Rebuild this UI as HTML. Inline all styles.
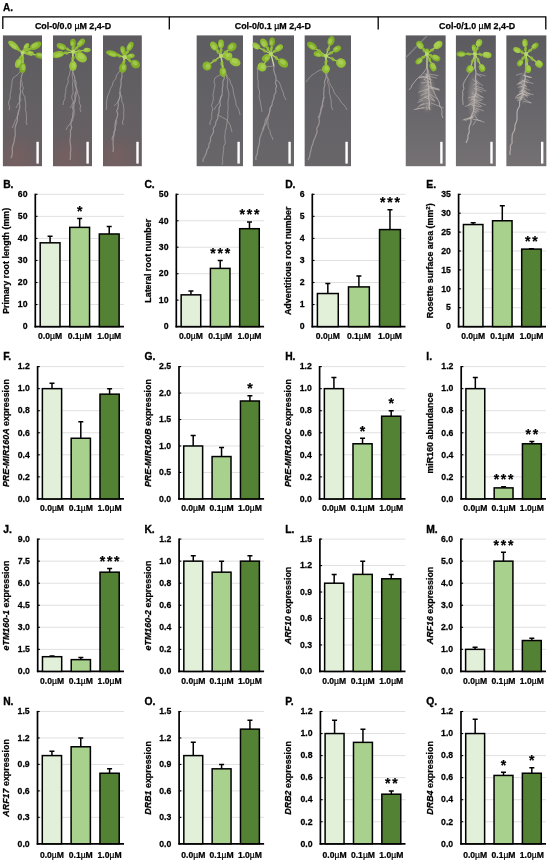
<!DOCTYPE html>
<html><head><meta charset="utf-8"><title>Figure</title>
<style>html,body{margin:0;padding:0;background:#fff;}body{width:550px;height:863px;overflow:hidden;}svg{display:block;will-change:transform;}text{font-family:"Liberation Sans", sans-serif;fill:#000;stroke:#000;stroke-width:0.25px;}</style>
</head><body>
<svg width="550" height="863" viewBox="0 0 550 863">
<defs><linearGradient id="pg0" x1="0" y1="0" x2="0" y2="1"><stop offset="0" stop-color="#5d5b5f"/><stop offset="0.5" stop-color="#636064"/><stop offset="1" stop-color="#6a5f62"/></linearGradient>
<linearGradient id="pg1" x1="0" y1="0" x2="0" y2="1"><stop offset="0" stop-color="#5d5d61"/><stop offset="1" stop-color="#69666a"/></linearGradient>
<linearGradient id="pg2" x1="0" y1="0" x2="0" y2="1"><stop offset="0" stop-color="#5b5b5f"/><stop offset="0.5" stop-color="#67656a"/><stop offset="1" stop-color="#757173"/></linearGradient>
<radialGradient id="pink" cx="0.5" cy="0.5" r="0.5"><stop offset="0" stop-color="#8a5f5c" stop-opacity="0.4"/><stop offset="1" stop-color="#8a5f5c" stop-opacity="0"/></radialGradient>
<radialGradient id="mass" cx="0.5" cy="0.5" r="0.5"><stop offset="0" stop-color="#d6cdc4" stop-opacity="0.45"/><stop offset="1" stop-color="#d6cdc4" stop-opacity="0"/></radialGradient>
<filter id="bl" x="-20%" y="-20%" width="140%" height="140%"><feGaussianBlur stdDeviation="0.55"/></filter><clipPath id="cp0"><rect x="2.7" y="35.2" width="39.3" height="131.2"/></clipPath><clipPath id="cp1"><rect x="52.9" y="35.2" width="39.1" height="131.2"/></clipPath><clipPath id="cp2"><rect x="103.0" y="35.2" width="38.9" height="131.2"/></clipPath><clipPath id="cp3"><rect x="196.4" y="35.2" width="46.6" height="131.2"/></clipPath><clipPath id="cp4"><rect x="252.6" y="35.2" width="41.4" height="131.2"/></clipPath><clipPath id="cp5"><rect x="304.4" y="35.2" width="46.6" height="131.2"/></clipPath><clipPath id="cp6"><rect x="405.5" y="35.2" width="40.3" height="131.2"/></clipPath><clipPath id="cp7"><rect x="455.7" y="35.2" width="40.2" height="131.2"/></clipPath><clipPath id="cp8"><rect x="506.2" y="35.2" width="40.4" height="131.2"/></clipPath></defs>
<rect width="550" height="863" fill="#fff"/>
<text x="3.0" y="11" font-size="10" font-weight="bold">A.</text>
<path d="M2.8,29 V16.8 H545.8 V29.5" fill="none" stroke="#000" stroke-width="1.3"/>
<line x1="169.3" y1="16.8" x2="169.3" y2="29.5" stroke="#000" stroke-width="1.3"/>
<line x1="378.2" y1="16.8" x2="378.2" y2="29.5" stroke="#000" stroke-width="1.3"/>
<text x="73.0" y="28.9" font-size="8.9" font-weight="bold" text-anchor="middle">Col-0/0.0 <tspan font-weight="normal">µ</tspan>M 2,4-D</text>
<text x="272.8" y="28.9" font-size="8.9" font-weight="bold" text-anchor="middle">Col-0/0.1 <tspan font-weight="normal">µ</tspan>M 2,4-D</text>
<text x="477.2" y="28.9" font-size="8.9" font-weight="bold" text-anchor="middle">Col-0/1.0 <tspan font-weight="normal">µ</tspan>M 2,4-D</text>
<g clip-path="url(#cp0)"><rect x="2.7" y="35.2" width="39.3" height="131.2" fill="url(#pg0)"/>
<ellipse cx="16.5" cy="156.4" rx="21.6" ry="22" fill="url(#pink)"/>
<g filter="url(#bl)">
<path d="M23.0,66.0 L23.1,69.5 L22.5,73.0 L21.4,76.5 L21.0,80.0 L20.4,83.0 L20.6,86.0 L20.2,89.0 L20.7,92.0 L20.0,95.0 L19.4,98.0 L19.6,101.0 L19.6,104.0 L19.9,107.0 L19.0,110.0 L18.3,113.3 L17.3,116.7 L17.5,120.0 L16.5,123.3 L15.2,126.7 L15.0,130.0 L15.3,133.0 L15.1,136.0 L14.4,139.0 L14.1,142.0 L13.0,145.0 L12.2,148.2 L12.4,151.5 L12.2,154.8 L11.0,158.0" stroke="#a39b9c" stroke-width="1.2" fill="none" opacity="0.85" stroke-linejoin="round"/>
<path d="M23.0,66.0 L20.8,69.0 L20.0,72.0 L18.3,74.0 L15.8,76.0 L13.0,78.0 L12.0,81.4 L11.8,84.8 L11.1,88.2 L10.9,91.6 L10.0,95.0 L10.3,98.0 L8.9,101.0 L8.6,104.0 L9.8,107.0 L9.0,110.0" stroke="#a39b9c" stroke-width="0.9" fill="none" opacity="0.85" stroke-linejoin="round"/>
<path d="M21.0,80.0 L22.3,82.5 L22.0,85.0 L23.4,88.0 L22.4,91.0 L23.1,94.0 L25.0,97.0 L25.0,100.0 L25.7,103.1 L25.8,106.2 L25.4,109.4 L26.2,112.5 L26.4,115.6 L26.6,118.8 L26.1,121.9 L27.0,125.0" stroke="#a39b9c" stroke-width="0.9" fill="none" opacity="0.85" stroke-linejoin="round"/>
<path d="M19.0,110.0 L18.0,112.5 L18.0,115.0 L16.6,118.2 L14.8,121.5 L13.7,124.8 L12.0,128.0" stroke="#a39b9c" stroke-width="0.9" fill="none" opacity="0.85" stroke-linejoin="round"/>
<path d="M20.0,95.0 L20.0,97.5 L21.0,100.0 L18.6,102.7 L17.5,105.3 L16.0,108.0" stroke="#a39b9c" stroke-width="0.9" fill="none" opacity="0.85" stroke-linejoin="round"/>
<line x1="22.6" y1="52.6" x2="23" y2="66" stroke="#c9d9a0" stroke-width="1.3"/>
<line x1="22.6" y1="52.6" x2="13.5" y2="45.3" stroke="#b3d563" stroke-width="1.2"/>
<line x1="22.6" y1="52.6" x2="26.4" y2="46.5" stroke="#b3d563" stroke-width="1.2"/>
<line x1="22.6" y1="52.6" x2="35.6" y2="45.7" stroke="#b3d563" stroke-width="1.2"/>
<line x1="22.6" y1="52.6" x2="40.2" y2="55.6" stroke="#b3d563" stroke-width="1.2"/>
<line x1="22.6" y1="52.6" x2="30.2" y2="53.3" stroke="#b3d563" stroke-width="1.2"/>
<line x1="22.6" y1="52.6" x2="18.4" y2="63.2" stroke="#b3d563" stroke-width="1.2"/>
<line x1="22.6" y1="52.6" x2="22.6" y2="67.8" stroke="#b3d563" stroke-width="1.2"/>
<ellipse cx="13.5" cy="45.3" rx="6.4" ry="2.9" transform="rotate(-141 13.5 45.3)" fill="#97c23a"/>
<ellipse cx="12.9" cy="44.7" rx="3.6" ry="1.5" transform="rotate(-141 13.5 45.3)" fill="#b5d660" opacity="0.6"/>
<ellipse cx="18.5" cy="49.3" rx="2.4" ry="1.5" transform="rotate(-116 18.5 49.3)" fill="#8fbd33" opacity="0.85"/>
<ellipse cx="26.4" cy="46.5" rx="3.7" ry="2.3" transform="rotate(-58 26.4 46.5)" fill="#97c23a"/>
<ellipse cx="25.8" cy="45.9" rx="2.0" ry="1.2" transform="rotate(-58 26.4 46.5)" fill="#b5d660" opacity="0.6"/>
<ellipse cx="24.3" cy="49.9" rx="2.4" ry="1.5" transform="rotate(-33 24.3 49.9)" fill="#8fbd33" opacity="0.85"/>
<ellipse cx="35.6" cy="45.7" rx="6.4" ry="3.4" transform="rotate(-28 35.6 45.7)" fill="#86b52c"/>
<ellipse cx="35.0" cy="45.1" rx="3.6" ry="1.8" transform="rotate(-28 35.6 45.7)" fill="#b5d660" opacity="0.6"/>
<ellipse cx="28.5" cy="49.5" rx="2.4" ry="1.5" transform="rotate(-3 28.5 49.5)" fill="#8fbd33" opacity="0.85"/>
<ellipse cx="40.2" cy="55.6" rx="5.0" ry="2.9" transform="rotate(10 40.2 55.6)" fill="#7fae28"/>
<ellipse cx="39.6" cy="55.0" rx="2.8" ry="1.5" transform="rotate(10 40.2 55.6)" fill="#b5d660" opacity="0.6"/>
<ellipse cx="30.5" cy="54.0" rx="2.4" ry="1.5" transform="rotate(35 30.5 54.0)" fill="#8fbd33" opacity="0.85"/>
<ellipse cx="30.2" cy="53.3" rx="3.7" ry="2.3" transform="rotate(5 30.2 53.3)" fill="#97c23a"/>
<ellipse cx="29.6" cy="52.7" rx="2.0" ry="1.2" transform="rotate(5 30.2 53.3)" fill="#b5d660" opacity="0.6"/>
<ellipse cx="26.0" cy="52.9" rx="2.4" ry="1.5" transform="rotate(30 26.0 52.9)" fill="#8fbd33" opacity="0.85"/>
<ellipse cx="18.4" cy="63.2" rx="5.0" ry="3.2" transform="rotate(112 18.4 63.2)" fill="#97c23a"/>
<ellipse cx="17.8" cy="62.6" rx="2.8" ry="1.7" transform="rotate(112 18.4 63.2)" fill="#b5d660" opacity="0.6"/>
<ellipse cx="20.7" cy="57.4" rx="2.4" ry="1.5" transform="rotate(137 20.7 57.4)" fill="#8fbd33" opacity="0.85"/>
<ellipse cx="22.6" cy="67.8" rx="5.4" ry="3.4" transform="rotate(90 22.6 67.8)" fill="#7fae28"/>
<ellipse cx="22.0" cy="67.2" rx="3.0" ry="1.8" transform="rotate(90 22.6 67.8)" fill="#b5d660" opacity="0.6"/>
<ellipse cx="22.6" cy="59.4" rx="2.4" ry="1.5" transform="rotate(115 22.6 59.4)" fill="#8fbd33" opacity="0.85"/>
<circle cx="22.6" cy="52.6" r="2" fill="#b8d96a"/>
</g>
<rect x="36.4" y="141.8" width="2.4" height="21.8" fill="#fff"/></g>
<g clip-path="url(#cp1)"><rect x="52.9" y="35.2" width="39.1" height="131.2" fill="url(#pg0)"/>
<ellipse cx="66.6" cy="156.4" rx="21.5" ry="22" fill="url(#pink)"/>
<g filter="url(#bl)">
<path d="M72.0,66.0 L72.7,69.5 L73.1,73.0 L74.5,76.5 L75.0,80.0 L74.8,83.0 L75.5,86.0 L76.6,89.0 L76.0,92.0 L74.9,95.0 L75.0,98.0 L75.3,101.0 L73.9,104.0 L73.7,107.0 L74.0,110.0 L74.0,113.0 L73.7,116.0 L71.9,119.0 L71.0,122.0 L71.0,125.0 L71.7,128.0 L70.3,131.0 L70.6,134.0 L70.4,137.0 L70.0,140.0 L70.2,143.3 L70.7,146.7 L70.8,150.0 L70.3,153.3 L70.6,156.7 L70.0,160.0" stroke="#a39b9c" stroke-width="1.2" fill="none" opacity="0.85" stroke-linejoin="round"/>
<path d="M72.0,66.0 L70.5,69.0 L70.0,72.0 L69.3,75.2 L67.9,78.5 L68.3,81.8 L67.0,85.0 L65.8,88.3 L65.8,91.7 L65.0,95.0 L65.1,98.3 L63.5,101.7 L63.0,105.0" stroke="#a39b9c" stroke-width="0.9" fill="none" opacity="0.85" stroke-linejoin="round"/>
<path d="M75.0,80.0 L76.4,82.5 L76.0,85.0 L75.8,88.0 L77.6,91.0 L77.8,94.0 L79.2,97.0 L79.0,100.0 L79.3,103.0 L80.8,106.0 L79.9,109.0 L81.0,112.0" stroke="#a39b9c" stroke-width="0.9" fill="none" opacity="0.85" stroke-linejoin="round"/>
<path d="M72.0,66.0 L72.3,69.0 L72.8,72.0 L72.1,75.0 L72.6,78.0 L73.1,81.0 L72.4,84.0 L72.8,87.0 L72.9,90.0 L73.1,93.0 L71.7,96.0 L72.0,99.0 L73.6,102.0 L73.2,105.0 L72.3,108.0 L73.3,111.0 L72.3,114.0 L72.7,117.0 L73.0,120.0 L71.1,122.5 L69.0,125.0 L67.1,127.5 L66.0,130.0" stroke="#a39b9c" stroke-width="0.9" fill="none" opacity="0.85" stroke-linejoin="round"/>
<path d="M76.0,92.0 L76.2,96.0 L75.0,100.0 L72.7,102.7 L71.8,105.3 L70.0,108.0" stroke="#a39b9c" stroke-width="0.9" fill="none" opacity="0.85" stroke-linejoin="round"/>
<line x1="73" y1="51.8" x2="72" y2="66" stroke="#c9d9a0" stroke-width="1.3"/>
<line x1="73" y1="51.8" x2="57.8" y2="54.5" stroke="#b3d563" stroke-width="1.2"/>
<line x1="73" y1="51.8" x2="61.4" y2="46.5" stroke="#b3d563" stroke-width="1.2"/>
<line x1="73" y1="51.8" x2="73" y2="42.9" stroke="#b3d563" stroke-width="1.2"/>
<line x1="73" y1="51.8" x2="81" y2="42.9" stroke="#b3d563" stroke-width="1.2"/>
<line x1="73" y1="51.8" x2="81" y2="57.2" stroke="#b3d563" stroke-width="1.2"/>
<line x1="73" y1="51.8" x2="73" y2="66" stroke="#b3d563" stroke-width="1.2"/>
<line x1="73" y1="51.8" x2="87" y2="50" stroke="#b3d563" stroke-width="1.2"/>
<ellipse cx="57.8" cy="54.5" rx="6.4" ry="3.4" transform="rotate(170 57.8 54.5)" fill="#8fbd33"/>
<ellipse cx="57.2" cy="53.9" rx="3.6" ry="1.8" transform="rotate(170 57.8 54.5)" fill="#b5d660" opacity="0.6"/>
<ellipse cx="66.2" cy="53.0" rx="2.4" ry="1.5" transform="rotate(195 66.2 53.0)" fill="#8fbd33" opacity="0.85"/>
<ellipse cx="61.4" cy="46.5" rx="5.0" ry="2.9" transform="rotate(-155 61.4 46.5)" fill="#86b52c"/>
<ellipse cx="60.8" cy="45.9" rx="2.8" ry="1.5" transform="rotate(-155 61.4 46.5)" fill="#b5d660" opacity="0.6"/>
<ellipse cx="67.8" cy="49.4" rx="2.4" ry="1.5" transform="rotate(-130 67.8 49.4)" fill="#8fbd33" opacity="0.85"/>
<ellipse cx="73" cy="42.9" rx="4.1" ry="2.9" transform="rotate(-90 73 42.9)" fill="#7fae28"/>
<ellipse cx="72.4" cy="42.3" rx="2.2" ry="1.5" transform="rotate(-90 73 42.9)" fill="#b5d660" opacity="0.6"/>
<ellipse cx="73.0" cy="47.8" rx="2.4" ry="1.5" transform="rotate(-65 73.0 47.8)" fill="#8fbd33" opacity="0.85"/>
<ellipse cx="81" cy="42.9" rx="5.0" ry="2.9" transform="rotate(-48 81 42.9)" fill="#86b52c"/>
<ellipse cx="80.4" cy="42.3" rx="2.8" ry="1.5" transform="rotate(-48 81 42.9)" fill="#b5d660" opacity="0.6"/>
<ellipse cx="76.6" cy="47.8" rx="2.4" ry="1.5" transform="rotate(-23 76.6 47.8)" fill="#8fbd33" opacity="0.85"/>
<ellipse cx="81" cy="57.2" rx="6.4" ry="4.6" transform="rotate(34 81 57.2)" fill="#97c23a"/>
<ellipse cx="80.4" cy="56.6" rx="3.6" ry="2.4" transform="rotate(34 81 57.2)" fill="#b5d660" opacity="0.6"/>
<ellipse cx="76.6" cy="54.2" rx="2.4" ry="1.5" transform="rotate(59 76.6 54.2)" fill="#8fbd33" opacity="0.85"/>
<ellipse cx="73" cy="66" rx="5.0" ry="3.8" transform="rotate(90 73 66)" fill="#97c23a"/>
<ellipse cx="72.4" cy="65.4" rx="2.8" ry="2.0" transform="rotate(90 73 66)" fill="#b5d660" opacity="0.6"/>
<ellipse cx="73.0" cy="58.2" rx="2.4" ry="1.5" transform="rotate(115 73.0 58.2)" fill="#8fbd33" opacity="0.85"/>
<ellipse cx="87" cy="50" rx="3.7" ry="2.3" transform="rotate(-7 87 50)" fill="#97c23a"/>
<ellipse cx="86.4" cy="49.4" rx="2.0" ry="1.2" transform="rotate(-7 87 50)" fill="#b5d660" opacity="0.6"/>
<ellipse cx="79.3" cy="51.0" rx="2.4" ry="1.5" transform="rotate(18 79.3 51.0)" fill="#8fbd33" opacity="0.85"/>
<circle cx="73" cy="51.8" r="2" fill="#b8d96a"/>
</g>
<rect x="86.4" y="141.8" width="2.4" height="21.8" fill="#fff"/></g>
<g clip-path="url(#cp2)"><rect x="103.0" y="35.2" width="38.9" height="131.2" fill="url(#pg0)"/>
<ellipse cx="116.6" cy="156.4" rx="21.4" ry="22" fill="url(#pink)"/>
<g filter="url(#bl)">
<path d="M123.0,67.0 L121.9,70.2 L121.9,73.5 L122.0,76.8 L121.0,80.0 L121.1,83.0 L120.9,86.0 L120.1,89.0 L120.0,92.0 L120.1,95.2 L119.3,98.4 L118.0,101.6 L118.3,104.8 L118.0,108.0 L116.7,111.0 L117.8,114.0 L117.3,117.0 L116.0,120.0 L115.3,123.0 L114.9,126.0 L115.3,129.0 L113.9,132.0 L114.0,135.0 L113.2,138.4 L113.0,141.8 L113.1,145.2 L113.4,148.6 L113.0,152.0" stroke="#a39b9c" stroke-width="1.2" fill="none" opacity="0.85" stroke-linejoin="round"/>
<path d="M123.0,67.0 L121.1,69.5 L119.0,72.0 L116.5,75.3 L115.8,78.7 L113.0,82.0 L112.5,85.2 L110.4,88.5 L109.5,91.8 L108.0,95.0 L107.1,98.0 L106.7,101.0 L106.4,104.0 L106.7,107.0 L106.0,110.0" stroke="#a39b9c" stroke-width="0.9" fill="none" opacity="0.85" stroke-linejoin="round"/>
<path d="M120.0,92.0 L119.9,93.5 L121.0,95.0 L121.8,98.0 L121.6,101.0 L123.2,104.0 L123.6,107.0 L124.0,110.0 L123.6,113.0 L123.8,116.0 L123.5,119.0 L122.4,122.0 L123.0,125.0" stroke="#a39b9c" stroke-width="0.9" fill="none" opacity="0.85" stroke-linejoin="round"/>
<path d="M116.0,120.0 L116.9,122.5 L116.0,125.0 L115.1,128.0 L114.8,131.0 L114.0,134.0 L112.3,137.0 L112.0,140.0" stroke="#a39b9c" stroke-width="0.9" fill="none" opacity="0.85" stroke-linejoin="round"/>
<path d="M120.0,92.0 L120.3,96.0 L119.0,100.0 L117.2,103.0 L114.0,106.0" stroke="#a39b9c" stroke-width="0.9" fill="none" opacity="0.85" stroke-linejoin="round"/>
<line x1="124.6" y1="57.2" x2="123" y2="67" stroke="#c9d9a0" stroke-width="1.3"/>
<line x1="124.6" y1="57.2" x2="112.2" y2="53.6" stroke="#b3d563" stroke-width="1.2"/>
<line x1="124.6" y1="57.2" x2="122.9" y2="50" stroke="#b3d563" stroke-width="1.2"/>
<line x1="124.6" y1="57.2" x2="130" y2="46.5" stroke="#b3d563" stroke-width="1.2"/>
<line x1="124.6" y1="57.2" x2="135.3" y2="64" stroke="#b3d563" stroke-width="1.2"/>
<line x1="124.6" y1="57.2" x2="131" y2="56" stroke="#b3d563" stroke-width="1.2"/>
<line x1="124.6" y1="57.2" x2="122.9" y2="67.9" stroke="#b3d563" stroke-width="1.2"/>
<ellipse cx="112.2" cy="53.6" rx="6.4" ry="2.9" transform="rotate(-164 112.2 53.6)" fill="#86b52c"/>
<ellipse cx="111.6" cy="53.0" rx="3.6" ry="1.5" transform="rotate(-164 112.2 53.6)" fill="#b5d660" opacity="0.6"/>
<ellipse cx="119.0" cy="55.6" rx="2.4" ry="1.5" transform="rotate(-139 119.0 55.6)" fill="#8fbd33" opacity="0.85"/>
<ellipse cx="122.9" cy="50" rx="4.1" ry="2.5" transform="rotate(-103 122.9 50)" fill="#86b52c"/>
<ellipse cx="122.3" cy="49.4" rx="2.2" ry="1.3" transform="rotate(-103 122.9 50)" fill="#b5d660" opacity="0.6"/>
<ellipse cx="123.8" cy="54.0" rx="2.4" ry="1.5" transform="rotate(-78 123.8 54.0)" fill="#8fbd33" opacity="0.85"/>
<ellipse cx="130" cy="46.5" rx="5.0" ry="2.9" transform="rotate(-63 130 46.5)" fill="#86b52c"/>
<ellipse cx="129.4" cy="45.9" rx="2.8" ry="1.5" transform="rotate(-63 130 46.5)" fill="#b5d660" opacity="0.6"/>
<ellipse cx="127.0" cy="52.4" rx="2.4" ry="1.5" transform="rotate(-38 127.0 52.4)" fill="#8fbd33" opacity="0.85"/>
<ellipse cx="135.3" cy="64" rx="5.0" ry="4.0" transform="rotate(32 135.3 64)" fill="#7fae28"/>
<ellipse cx="134.7" cy="63.4" rx="2.8" ry="2.1" transform="rotate(32 135.3 64)" fill="#b5d660" opacity="0.6"/>
<ellipse cx="129.4" cy="60.3" rx="2.4" ry="1.5" transform="rotate(57 129.4 60.3)" fill="#8fbd33" opacity="0.85"/>
<ellipse cx="131" cy="56" rx="3.7" ry="2.3" transform="rotate(-11 131 56)" fill="#8fbd33"/>
<ellipse cx="130.4" cy="55.4" rx="2.0" ry="1.2" transform="rotate(-11 131 56)" fill="#b5d660" opacity="0.6"/>
<ellipse cx="127.5" cy="56.7" rx="2.4" ry="1.5" transform="rotate(14 127.5 56.7)" fill="#8fbd33" opacity="0.85"/>
<ellipse cx="122.9" cy="67.9" rx="5.0" ry="3.8" transform="rotate(99 122.9 67.9)" fill="#7fae28"/>
<ellipse cx="122.3" cy="67.3" rx="2.8" ry="2.0" transform="rotate(99 122.9 67.9)" fill="#b5d660" opacity="0.6"/>
<ellipse cx="123.8" cy="62.0" rx="2.4" ry="1.5" transform="rotate(124 123.8 62.0)" fill="#8fbd33" opacity="0.85"/>
<circle cx="124.6" cy="57.2" r="2" fill="#b8d96a"/>
</g>
<rect x="136.3" y="141.8" width="2.4" height="21.8" fill="#fff"/></g>
<g clip-path="url(#cp3)"><rect x="196.4" y="35.2" width="46.6" height="131.2" fill="url(#pg1)"/>
<g filter="url(#bl)">
<path d="M224.0,72.0 L224.3,75.2 L224.2,78.5 L222.7,81.8 L223.0,85.0 L222.3,88.3 L222.3,91.7 L222.0,95.0 L220.7,98.3 L219.9,101.7 L220.4,105.0 L219.0,108.3 L219.1,111.7 L218.0,115.0 L217.8,118.3 L215.9,121.7 L215.5,125.0 L213.2,128.3 L213.6,131.7 L212.0,135.0 L210.4,138.0 L210.6,141.0 L209.0,144.0 L208.8,147.0 L207.0,150.0 L206.3,153.0 L205.0,156.0 L203.3,159.0 L203.0,162.0" stroke="#a39b9c" stroke-width="1.2" fill="none" opacity="0.85" stroke-linejoin="round"/>
<path d="M224.0,72.0 L225.4,73.5 L226.0,75.0 L227.0,78.0 L227.6,81.0 L227.4,84.0 L227.1,87.0 L228.0,90.0 L228.9,93.3 L228.8,96.7 L228.1,100.0 L227.9,103.3 L228.1,106.7 L228.0,110.0 L227.6,113.0 L228.0,116.0 L227.5,119.0 L227.1,122.0 L226.6,125.0 L226.3,128.0 L225.2,131.0 L225.2,134.0 L224.7,137.0 L225.0,140.0 L225.3,143.1 L223.7,146.2 L223.7,149.4 L223.2,152.5 L223.0,155.6 L222.4,158.8 L222.8,161.9 L222.0,165.0" stroke="#a39b9c" stroke-width="0.9" fill="none" opacity="0.85" stroke-linejoin="round"/>
<path d="M224.0,72.0 L221.9,74.0 L217.8,76.0 L215.0,78.0 L214.0,81.4 L215.0,84.8 L214.3,88.2 L213.6,91.6 L213.0,95.0 L213.5,98.4 L212.8,101.8 L211.5,105.2 L212.7,108.6 L212.0,112.0 L211.7,115.2 L211.7,118.5 L210.0,121.8 L210.0,125.0" stroke="#a39b9c" stroke-width="0.9" fill="none" opacity="0.85" stroke-linejoin="round"/>
<path d="M224.0,72.0 L226.9,74.7 L227.2,77.3 L230.0,80.0 L230.4,83.0 L232.2,86.0 L233.1,89.0 L233.3,92.0 L234.0,95.0 L234.8,98.3 L235.9,101.7 L236.0,105.0 L238.2,108.3 L239.4,111.7 L240.0,115.0" stroke="#a39b9c" stroke-width="0.9" fill="none" opacity="0.85" stroke-linejoin="round"/>
<path d="M222.0,95.0 L220.5,97.5 L220.0,100.0 L218.8,103.3 L215.8,106.7 L214.0,110.0" stroke="#a39b9c" stroke-width="0.9" fill="none" opacity="0.85" stroke-linejoin="round"/>
<path d="M218.0,115.0 L221.1,116.7 L224.1,118.3 L227.0,120.0 L229.0,123.0 L230.4,126.0 L231.2,129.0 L232.0,132.0" stroke="#a39b9c" stroke-width="0.9" fill="none" opacity="0.85" stroke-linejoin="round"/>
<line x1="221" y1="56" x2="224" y2="72" stroke="#c9d9a0" stroke-width="1.3"/>
<line x1="221" y1="56" x2="214" y2="46" stroke="#b3d563" stroke-width="1.2"/>
<line x1="221" y1="56" x2="221" y2="44" stroke="#b3d563" stroke-width="1.2"/>
<line x1="221" y1="56" x2="232" y2="47" stroke="#b3d563" stroke-width="1.2"/>
<line x1="221" y1="56" x2="235" y2="62" stroke="#b3d563" stroke-width="1.2"/>
<line x1="221" y1="56" x2="207" y2="66" stroke="#b3d563" stroke-width="1.2"/>
<line x1="221" y1="56" x2="223" y2="72" stroke="#b3d563" stroke-width="1.2"/>
<line x1="221" y1="56" x2="228" y2="56" stroke="#b3d563" stroke-width="1.2"/>
<ellipse cx="214" cy="46" rx="5.0" ry="3.4" transform="rotate(-125 214 46)" fill="#8fbd33"/>
<ellipse cx="213.4" cy="45.4" rx="2.8" ry="1.8" transform="rotate(-125 214 46)" fill="#b5d660" opacity="0.6"/>
<ellipse cx="217.8" cy="51.5" rx="2.4" ry="1.5" transform="rotate(-100 217.8 51.5)" fill="#8fbd33" opacity="0.85"/>
<ellipse cx="221" cy="44" rx="4.4" ry="2.9" transform="rotate(-90 221 44)" fill="#8fbd33"/>
<ellipse cx="220.4" cy="43.4" rx="2.4" ry="1.5" transform="rotate(-90 221 44)" fill="#b5d660" opacity="0.6"/>
<ellipse cx="221.0" cy="50.6" rx="2.4" ry="1.5" transform="rotate(-65 221.0 50.6)" fill="#8fbd33" opacity="0.85"/>
<ellipse cx="232" cy="47" rx="5.0" ry="4.0" transform="rotate(-39 232 47)" fill="#7fae28"/>
<ellipse cx="231.4" cy="46.4" rx="2.8" ry="2.1" transform="rotate(-39 232 47)" fill="#b5d660" opacity="0.6"/>
<ellipse cx="225.9" cy="52.0" rx="2.4" ry="1.5" transform="rotate(-14 225.9 52.0)" fill="#8fbd33" opacity="0.85"/>
<ellipse cx="235" cy="62" rx="5.7" ry="4.0" transform="rotate(23 235 62)" fill="#97c23a"/>
<ellipse cx="234.4" cy="61.4" rx="3.2" ry="2.1" transform="rotate(23 235 62)" fill="#b5d660" opacity="0.6"/>
<ellipse cx="227.3" cy="58.7" rx="2.4" ry="1.5" transform="rotate(48 227.3 58.7)" fill="#8fbd33" opacity="0.85"/>
<ellipse cx="207" cy="66" rx="4.4" ry="4.6" transform="rotate(144 207 66)" fill="#86b52c"/>
<ellipse cx="206.4" cy="65.4" rx="2.4" ry="2.4" transform="rotate(144 207 66)" fill="#b5d660" opacity="0.6"/>
<ellipse cx="214.7" cy="60.5" rx="2.4" ry="1.5" transform="rotate(169 214.7 60.5)" fill="#8fbd33" opacity="0.85"/>
<ellipse cx="223" cy="72" rx="5.0" ry="3.4" transform="rotate(83 223 72)" fill="#86b52c"/>
<ellipse cx="222.4" cy="71.4" rx="2.8" ry="1.8" transform="rotate(83 223 72)" fill="#b5d660" opacity="0.6"/>
<ellipse cx="221.9" cy="63.2" rx="2.4" ry="1.5" transform="rotate(108 221.9 63.2)" fill="#8fbd33" opacity="0.85"/>
<ellipse cx="228" cy="56" rx="4.4" ry="3.4" transform="rotate(0 228 56)" fill="#97c23a"/>
<ellipse cx="227.4" cy="55.4" rx="2.4" ry="1.8" transform="rotate(0 228 56)" fill="#b5d660" opacity="0.6"/>
<ellipse cx="224.2" cy="56.0" rx="2.4" ry="1.5" transform="rotate(25 224.2 56.0)" fill="#8fbd33" opacity="0.85"/>
<circle cx="221" cy="56" r="2" fill="#b8d96a"/>
</g>
<rect x="237.4" y="141.8" width="2.4" height="21.8" fill="#fff"/></g>
<g clip-path="url(#cp4)"><rect x="252.6" y="35.2" width="41.4" height="131.2" fill="url(#pg1)"/>
<g filter="url(#bl)">
<path d="M274.0,66.0 L273.7,69.5 L274.5,73.0 L275.9,76.5 L276.0,80.0 L275.4,83.0 L276.6,86.0 L275.6,89.0 L276.0,92.0 L274.1,95.2 L273.9,98.5 L272.4,101.8 L272.0,105.0 L270.1,108.2 L269.6,111.5 L268.9,114.8 L268.0,118.0 L266.2,120.8 L266.2,123.6 L264.0,126.4 L263.6,129.2 L262.0,132.0 L260.9,135.2 L259.7,138.4 L259.5,141.6 L259.1,144.8 L258.0,148.0 L257.5,151.0 L257.3,154.0 L255.8,157.0 L256.0,160.0" stroke="#a39b9c" stroke-width="1.2" fill="none" opacity="0.85" stroke-linejoin="round"/>
<path d="M274.0,66.0 L269.8,66.4 L266.9,66.8 L262.9,67.2 L260.0,67.6 L257.0,68.0 L257.7,71.4 L257.7,74.8 L257.5,78.2 L258.3,81.6 L258.0,85.0 L258.3,88.0 L259.5,91.0 L259.4,94.0 L259.0,97.0 L260.0,100.0 L260.6,103.0 L261.0,106.0 L261.6,109.0 L262.0,112.0" stroke="#a39b9c" stroke-width="0.9" fill="none" opacity="0.85" stroke-linejoin="round"/>
<path d="M276.0,80.0 L278.0,81.0 L279.0,82.0 L280.6,85.3 L281.5,88.7 L283.0,92.0 L284.0,96.0 L286.0,100.0" stroke="#a39b9c" stroke-width="0.9" fill="none" opacity="0.85" stroke-linejoin="round"/>
<path d="M272.0,105.0 L270.3,107.5 L270.0,110.0 L269.4,113.0 L267.7,116.0 L265.7,119.0 L265.0,122.0 L264.0,126.0 L262.0,130.0" stroke="#a39b9c" stroke-width="0.9" fill="none" opacity="0.85" stroke-linejoin="round"/>
<path d="M268.0,118.0 L267.8,121.5 L268.0,125.0 L268.3,128.0 L270.2,131.0 L270.3,134.0 L272.0,137.0 L273.0,140.0" stroke="#a39b9c" stroke-width="0.9" fill="none" opacity="0.85" stroke-linejoin="round"/>
<line x1="271" y1="54" x2="274" y2="66" stroke="#c9d9a0" stroke-width="1.3"/>
<line x1="271" y1="54" x2="264" y2="43" stroke="#b3d563" stroke-width="1.2"/>
<line x1="271" y1="54" x2="272" y2="42" stroke="#b3d563" stroke-width="1.2"/>
<line x1="271" y1="54" x2="283" y2="63" stroke="#b3d563" stroke-width="1.2"/>
<line x1="271" y1="54" x2="262" y2="67" stroke="#b3d563" stroke-width="1.2"/>
<line x1="271" y1="54" x2="256" y2="46" stroke="#b3d563" stroke-width="1.2"/>
<line x1="271" y1="54" x2="279" y2="48" stroke="#b3d563" stroke-width="1.2"/>
<line x1="271" y1="54" x2="266" y2="58" stroke="#b3d563" stroke-width="1.2"/>
<ellipse cx="264" cy="43" rx="5.0" ry="3.4" transform="rotate(-122 264 43)" fill="#8fbd33"/>
<ellipse cx="263.4" cy="42.4" rx="2.8" ry="1.8" transform="rotate(-122 264 43)" fill="#b5d660" opacity="0.6"/>
<ellipse cx="267.9" cy="49.0" rx="2.4" ry="1.5" transform="rotate(-97 267.9 49.0)" fill="#8fbd33" opacity="0.85"/>
<ellipse cx="272" cy="42" rx="4.4" ry="2.9" transform="rotate(-85 272 42)" fill="#7fae28"/>
<ellipse cx="271.4" cy="41.4" rx="2.4" ry="1.5" transform="rotate(-85 272 42)" fill="#b5d660" opacity="0.6"/>
<ellipse cx="271.4" cy="48.6" rx="2.4" ry="1.5" transform="rotate(-60 271.4 48.6)" fill="#8fbd33" opacity="0.85"/>
<ellipse cx="283" cy="63" rx="5.7" ry="4.0" transform="rotate(37 283 63)" fill="#86b52c"/>
<ellipse cx="282.4" cy="62.4" rx="3.2" ry="2.1" transform="rotate(37 283 63)" fill="#b5d660" opacity="0.6"/>
<ellipse cx="276.4" cy="58.0" rx="2.4" ry="1.5" transform="rotate(62 276.4 58.0)" fill="#8fbd33" opacity="0.85"/>
<ellipse cx="262" cy="67" rx="4.4" ry="4.6" transform="rotate(125 262 67)" fill="#97c23a"/>
<ellipse cx="261.4" cy="66.4" rx="2.4" ry="2.4" transform="rotate(125 262 67)" fill="#b5d660" opacity="0.6"/>
<ellipse cx="266.9" cy="59.9" rx="2.4" ry="1.5" transform="rotate(150 266.9 59.9)" fill="#8fbd33" opacity="0.85"/>
<ellipse cx="256" cy="46" rx="4.4" ry="2.9" transform="rotate(-152 256 46)" fill="#97c23a"/>
<ellipse cx="255.4" cy="45.4" rx="2.4" ry="1.5" transform="rotate(-152 256 46)" fill="#b5d660" opacity="0.6"/>
<ellipse cx="264.2" cy="50.4" rx="2.4" ry="1.5" transform="rotate(-127 264.2 50.4)" fill="#8fbd33" opacity="0.85"/>
<ellipse cx="279" cy="48" rx="4.4" ry="2.9" transform="rotate(-37 279 48)" fill="#8fbd33"/>
<ellipse cx="278.4" cy="47.4" rx="2.4" ry="1.5" transform="rotate(-37 279 48)" fill="#b5d660" opacity="0.6"/>
<ellipse cx="274.6" cy="51.3" rx="2.4" ry="1.5" transform="rotate(-12 274.6 51.3)" fill="#8fbd33" opacity="0.85"/>
<ellipse cx="266" cy="58" rx="4.4" ry="3.4" transform="rotate(141 266 58)" fill="#86b52c"/>
<ellipse cx="265.4" cy="57.4" rx="2.4" ry="1.8" transform="rotate(141 266 58)" fill="#b5d660" opacity="0.6"/>
<ellipse cx="268.8" cy="55.8" rx="2.4" ry="1.5" transform="rotate(166 268.8 55.8)" fill="#8fbd33" opacity="0.85"/>
<circle cx="271" cy="54" r="2" fill="#b8d96a"/>
</g>
<rect x="288.4" y="141.8" width="2.4" height="21.8" fill="#fff"/></g>
<g clip-path="url(#cp5)"><rect x="304.4" y="35.2" width="46.6" height="131.2" fill="url(#pg1)"/>
<g filter="url(#bl)">
<path d="M326.0,70.0 L325.6,73.0 L326.4,76.0 L325.5,79.0 L324.4,82.0 L325.0,85.0 L323.9,88.0 L324.0,91.0 L323.6,94.0 L324.0,97.0 L323.1,100.0 L322.5,103.0 L322.8,106.0 L321.3,109.0 L320.8,112.0 L320.0,115.0 L319.0,118.3 L319.4,121.7 L318.6,125.0 L316.7,128.3 L317.2,131.7 L316.0,135.0 L314.9,138.0 L313.4,141.0 L312.9,144.0 L311.5,147.0 L311.0,150.0 L310.1,153.3 L309.6,156.7 L308.0,160.0" stroke="#a39b9c" stroke-width="1.2" fill="none" opacity="0.85" stroke-linejoin="round"/>
<path d="M326.0,70.0 L322.9,70.0 L320.0,70.0 L317.1,71.7 L314.8,73.3 L312.0,75.0 L309.9,77.3 L307.8,79.7 L306.0,82.0" stroke="#a39b9c" stroke-width="0.9" fill="none" opacity="0.85" stroke-linejoin="round"/>
<path d="M326.0,70.0 L327.2,73.0 L326.6,76.0 L328.6,79.0 L329.0,82.0 L330.7,85.3 L332.9,88.7 L334.0,92.0 L335.7,94.7 L337.9,97.3 L340.0,100.0 L341.3,102.5 L344.1,105.0 L345.7,107.5 L347.0,110.0" stroke="#a39b9c" stroke-width="0.9" fill="none" opacity="0.85" stroke-linejoin="round"/>
<path d="M324.0,97.0 L323.1,101.0 L322.0,105.0 L320.8,108.2 L320.7,111.5 L319.3,114.8 L318.0,118.0" stroke="#a39b9c" stroke-width="0.9" fill="none" opacity="0.85" stroke-linejoin="round"/>
<path d="M326.0,70.0 L326.3,73.1 L326.6,76.2 L327.8,79.4 L327.5,82.5 L328.9,85.6 L329.4,88.8 L329.2,91.9 L330.0,95.0 L330.6,98.0 L331.3,101.0 L331.2,104.0 L331.5,107.0 L333.0,110.0" stroke="#a39b9c" stroke-width="0.9" fill="none" opacity="0.85" stroke-linejoin="round"/>
<line x1="326" y1="56" x2="326" y2="70" stroke="#c9d9a0" stroke-width="1.3"/>
<line x1="326" y1="56" x2="312" y2="46" stroke="#b3d563" stroke-width="1.2"/>
<line x1="326" y1="56" x2="331" y2="41" stroke="#b3d563" stroke-width="1.2"/>
<line x1="326" y1="56" x2="318" y2="54" stroke="#b3d563" stroke-width="1.2"/>
<line x1="326" y1="56" x2="341" y2="63" stroke="#b3d563" stroke-width="1.2"/>
<line x1="326" y1="56" x2="326" y2="69" stroke="#b3d563" stroke-width="1.2"/>
<line x1="326" y1="56" x2="337" y2="49" stroke="#b3d563" stroke-width="1.2"/>
<ellipse cx="312" cy="46" rx="5.7" ry="3.4" transform="rotate(-144 312 46)" fill="#7fae28"/>
<ellipse cx="311.4" cy="45.4" rx="3.2" ry="1.8" transform="rotate(-144 312 46)" fill="#b5d660" opacity="0.6"/>
<ellipse cx="319.7" cy="51.5" rx="2.4" ry="1.5" transform="rotate(-119 319.7 51.5)" fill="#8fbd33" opacity="0.85"/>
<ellipse cx="331" cy="41" rx="5.0" ry="3.4" transform="rotate(-72 331 41)" fill="#7fae28"/>
<ellipse cx="330.4" cy="40.4" rx="2.8" ry="1.8" transform="rotate(-72 331 41)" fill="#b5d660" opacity="0.6"/>
<ellipse cx="328.2" cy="49.2" rx="2.4" ry="1.5" transform="rotate(-47 328.2 49.2)" fill="#8fbd33" opacity="0.85"/>
<ellipse cx="318" cy="54" rx="4.4" ry="2.9" transform="rotate(-166 318 54)" fill="#86b52c"/>
<ellipse cx="317.4" cy="53.4" rx="2.4" ry="1.5" transform="rotate(-166 318 54)" fill="#b5d660" opacity="0.6"/>
<ellipse cx="322.4" cy="55.1" rx="2.4" ry="1.5" transform="rotate(-141 322.4 55.1)" fill="#8fbd33" opacity="0.85"/>
<ellipse cx="341" cy="63" rx="5.0" ry="4.6" transform="rotate(25 341 63)" fill="#97c23a"/>
<ellipse cx="340.4" cy="62.4" rx="2.8" ry="2.4" transform="rotate(25 341 63)" fill="#b5d660" opacity="0.6"/>
<ellipse cx="332.8" cy="59.1" rx="2.4" ry="1.5" transform="rotate(50 332.8 59.1)" fill="#8fbd33" opacity="0.85"/>
<ellipse cx="326" cy="69" rx="4.4" ry="4.0" transform="rotate(90 326 69)" fill="#8fbd33"/>
<ellipse cx="325.4" cy="68.4" rx="2.4" ry="2.1" transform="rotate(90 326 69)" fill="#b5d660" opacity="0.6"/>
<ellipse cx="326.0" cy="61.9" rx="2.4" ry="1.5" transform="rotate(115 326.0 61.9)" fill="#8fbd33" opacity="0.85"/>
<ellipse cx="337" cy="49" rx="4.4" ry="2.9" transform="rotate(-32 337 49)" fill="#86b52c"/>
<ellipse cx="336.4" cy="48.4" rx="2.4" ry="1.5" transform="rotate(-32 337 49)" fill="#b5d660" opacity="0.6"/>
<ellipse cx="330.9" cy="52.9" rx="2.4" ry="1.5" transform="rotate(-7 330.9 52.9)" fill="#8fbd33" opacity="0.85"/>
<circle cx="326" cy="56" r="2" fill="#b8d96a"/>
</g>
<rect x="345.4" y="141.8" width="2.4" height="21.8" fill="#fff"/></g>
<g clip-path="url(#cp6)"><rect x="405.5" y="35.2" width="40.3" height="131.2" fill="url(#pg2)"/>
<line x1="405.5" y1="58" x2="427.5" y2="35.2" stroke="#8d8b8c" stroke-width="1.6" opacity="0.7"/>
<g filter="url(#bl)">
<ellipse cx="427" cy="92" rx="9.6" ry="22.0" fill="url(#mass)"/>
<path d="M426.3,85.7 L439.3,89.1" stroke="#cfc6be" stroke-width="0.7" opacity="0.7"/>
<path d="M423.1,76.8 L431.6,80.0" stroke="#cfc6be" stroke-width="0.7" opacity="0.7"/>
<path d="M426.1,73.7 L430.5,78.9" stroke="#cfc6be" stroke-width="0.7" opacity="0.7"/>
<path d="M430.8,76.0 L424.9,77.3" stroke="#cfc6be" stroke-width="0.7" opacity="0.7"/>
<path d="M423.9,76.4 L418.5,77.6" stroke="#cfc6be" stroke-width="0.7" opacity="0.7"/>
<path d="M430.9,103.0 L443.6,107.8" stroke="#cfc6be" stroke-width="0.7" opacity="0.7"/>
<path d="M430.8,76.7 L436.8,78.1" stroke="#cfc6be" stroke-width="0.7" opacity="0.7"/>
<path d="M428.2,87.8 L439.3,90.0" stroke="#cfc6be" stroke-width="0.7" opacity="0.7"/>
<path d="M429.6,94.0 L437.6,98.9" stroke="#cfc6be" stroke-width="0.7" opacity="0.7"/>
<path d="M427.4,92.5 L420.6,95.5" stroke="#cfc6be" stroke-width="0.7" opacity="0.7"/>
<path d="M424.3,96.7 L428.8,99.0" stroke="#cfc6be" stroke-width="0.7" opacity="0.7"/>
<path d="M429.4,95.4 L418.8,100.4" stroke="#cfc6be" stroke-width="0.7" opacity="0.7"/>
<path d="M430.6,74.3 L438.4,75.7" stroke="#cfc6be" stroke-width="0.7" opacity="0.7"/>
<path d="M429.2,97.9 L435.1,101.1" stroke="#cfc6be" stroke-width="0.7" opacity="0.7"/>
<path d="M423.2,76.3 L418.8,78.2" stroke="#cfc6be" stroke-width="0.7" opacity="0.7"/>
<path d="M423.8,103.2 L417.3,107.5" stroke="#cfc6be" stroke-width="0.7" opacity="0.7"/>
<path d="M430.5,74.1 L421.3,78.1" stroke="#cfc6be" stroke-width="0.7" opacity="0.7"/>
<path d="M429.1,88.2 L424.6,91.8" stroke="#cfc6be" stroke-width="0.7" opacity="0.7"/>
<path d="M424.8,75.7 L430.5,79.4" stroke="#cfc6be" stroke-width="0.7" opacity="0.7"/>
<path d="M423.7,79.2 L431.9,83.4" stroke="#cfc6be" stroke-width="0.7" opacity="0.7"/>
<path d="M429.4,102.7 L419.4,105.4" stroke="#cfc6be" stroke-width="0.7" opacity="0.7"/>
<path d="M430.0,102.6 L425.7,106.8" stroke="#cfc6be" stroke-width="0.7" opacity="0.7"/>
<path d="M430.0,107.0 L426.7,109.9" stroke="#cfc6be" stroke-width="0.7" opacity="0.7"/>
<path d="M427.0,107.5 L415.5,109.2" stroke="#cfc6be" stroke-width="0.7" opacity="0.7"/>
<path d="M423.0,100.2 L417.5,102.5" stroke="#cfc6be" stroke-width="0.7" opacity="0.7"/>
<path d="M428.0,76.0 L423.7,79.6" stroke="#cfc6be" stroke-width="0.7" opacity="0.7"/>
<path d="M429.1,86.4 L439.8,90.1" stroke="#cfc6be" stroke-width="0.7" opacity="0.7"/>
<path d="M429.1,88.4 L418.3,92.4" stroke="#cfc6be" stroke-width="0.7" opacity="0.7"/>
<path d="M424.0,107.3 L413.7,109.7" stroke="#cfc6be" stroke-width="0.7" opacity="0.7"/>
<path d="M428.4,81.9 L421.1,83.0" stroke="#cfc6be" stroke-width="0.7" opacity="0.7"/>
<path d="M430.1,104.1 L426.2,109.8" stroke="#cfc6be" stroke-width="0.7" opacity="0.7"/>
<path d="M424.4,73.6 L428.3,75.2" stroke="#cfc6be" stroke-width="0.7" opacity="0.7"/>
<path d="M429.4,82.3 L425.3,86.7" stroke="#cfc6be" stroke-width="0.7" opacity="0.7"/>
<path d="M429.8,95.3 L434.5,101.0" stroke="#cfc6be" stroke-width="0.7" opacity="0.7"/>
<path d="M427.0,68.0 L427.4,71.0 L427.2,74.0 L426.9,77.0 L428.0,80.0 L427.9,83.0 L429.0,86.0 L428.5,89.0 L428.9,92.0 L429.0,95.0 L428.6,98.0 L429.3,101.0 L429.4,104.0 L429.1,107.0 L430.0,110.0" stroke="#bdb5b1" stroke-width="1.2" fill="none" opacity="0.85" stroke-linejoin="round"/>
<path d="M427.0,68.0 L425.3,70.0 L424.0,72.0 L421.9,74.7 L418.7,77.3 L416.0,80.0 L414.2,82.5 L412.0,85.0 L411.1,87.5 L409.0,90.0" stroke="#bdb5b1" stroke-width="0.9" fill="none" opacity="0.85" stroke-linejoin="round"/>
<path d="M427.0,68.0 L428.7,71.1 L428.8,74.3 L429.7,77.4 L430.4,80.6 L430.7,83.7 L431.3,86.9 L433.0,90.0 L434.5,93.3 L436.3,96.7 L438.0,100.0 L439.5,103.0 L439.7,106.0 L441.8,109.0 L442.0,112.0 L441.8,115.0 L443.0,118.0" stroke="#bdb5b1" stroke-width="0.9" fill="none" opacity="0.85" stroke-linejoin="round"/>
<line x1="427" y1="54" x2="427" y2="68" stroke="#c9d9a0" stroke-width="1.3"/>
<line x1="427" y1="54" x2="420" y2="45" stroke="#b3d563" stroke-width="1.2"/>
<line x1="427" y1="54" x2="438" y2="45" stroke="#b3d563" stroke-width="1.2"/>
<line x1="427" y1="54" x2="436" y2="58" stroke="#b3d563" stroke-width="1.2"/>
<line x1="427" y1="54" x2="419" y2="61" stroke="#b3d563" stroke-width="1.2"/>
<line x1="427" y1="54" x2="433" y2="67" stroke="#b3d563" stroke-width="1.2"/>
<line x1="427" y1="54" x2="427" y2="52" stroke="#b3d563" stroke-width="1.2"/>
<ellipse cx="420" cy="45" rx="4.5" ry="3.1" transform="rotate(-128 420 45)" fill="#86b52c"/>
<ellipse cx="419.4" cy="44.4" rx="3.2" ry="2.1" transform="rotate(-128 420 45)" fill="#b5d660" opacity="0.6"/>
<ellipse cx="423.9" cy="50.0" rx="2.4" ry="1.5" transform="rotate(-103 423.9 50.0)" fill="#8fbd33" opacity="0.85"/>
<ellipse cx="438" cy="45" rx="5.0" ry="3.6" transform="rotate(-39 438 45)" fill="#97c23a"/>
<ellipse cx="437.4" cy="44.4" rx="3.6" ry="2.4" transform="rotate(-39 438 45)" fill="#b5d660" opacity="0.6"/>
<ellipse cx="431.9" cy="50.0" rx="2.4" ry="1.5" transform="rotate(-14 431.9 50.0)" fill="#8fbd33" opacity="0.85"/>
<ellipse cx="436" cy="58" rx="4.5" ry="3.1" transform="rotate(24 436 58)" fill="#7fae28"/>
<ellipse cx="435.4" cy="57.4" rx="3.2" ry="2.1" transform="rotate(24 436 58)" fill="#b5d660" opacity="0.6"/>
<ellipse cx="431.1" cy="55.8" rx="2.4" ry="1.5" transform="rotate(49 431.1 55.8)" fill="#8fbd33" opacity="0.85"/>
<ellipse cx="419" cy="61" rx="4.0" ry="2.7" transform="rotate(139 419 61)" fill="#86b52c"/>
<ellipse cx="418.4" cy="60.4" rx="2.8" ry="1.8" transform="rotate(139 419 61)" fill="#b5d660" opacity="0.6"/>
<ellipse cx="423.4" cy="57.1" rx="2.4" ry="1.5" transform="rotate(164 423.4 57.1)" fill="#8fbd33" opacity="0.85"/>
<ellipse cx="433" cy="67" rx="4.5" ry="3.1" transform="rotate(65 433 67)" fill="#86b52c"/>
<ellipse cx="432.4" cy="66.4" rx="3.2" ry="2.1" transform="rotate(65 433 67)" fill="#b5d660" opacity="0.6"/>
<ellipse cx="429.7" cy="59.9" rx="2.4" ry="1.5" transform="rotate(90 429.7 59.9)" fill="#8fbd33" opacity="0.85"/>
<ellipse cx="427" cy="52" rx="3.5" ry="2.2" transform="rotate(-90 427 52)" fill="#8fbd33"/>
<ellipse cx="426.4" cy="51.4" rx="2.4" ry="1.5" transform="rotate(-90 427 52)" fill="#b5d660" opacity="0.6"/>
<ellipse cx="427.0" cy="53.1" rx="2.4" ry="1.5" transform="rotate(-65 427.0 53.1)" fill="#8fbd33" opacity="0.85"/>
<circle cx="427" cy="54" r="2" fill="#b8d96a"/>
</g>
<rect x="440.2" y="141.8" width="2.4" height="21.8" fill="#fff"/></g>
<g clip-path="url(#cp7)"><rect x="455.7" y="35.2" width="40.2" height="131.2" fill="url(#pg2)"/>
<g filter="url(#bl)">
<ellipse cx="474" cy="97" rx="7.199999999999999" ry="26.400000000000002" fill="url(#mass)"/>
<path d="M472.4,119.1 L481.0,120.7" stroke="#cfc6be" stroke-width="0.7" opacity="0.7"/>
<path d="M475.5,80.2 L482.9,85.8" stroke="#cfc6be" stroke-width="0.7" opacity="0.7"/>
<path d="M471.6,99.3 L481.6,100.5" stroke="#cfc6be" stroke-width="0.7" opacity="0.7"/>
<path d="M473.1,117.0 L463.8,119.6" stroke="#cfc6be" stroke-width="0.7" opacity="0.7"/>
<path d="M476.7,93.8 L483.6,97.5" stroke="#cfc6be" stroke-width="0.7" opacity="0.7"/>
<path d="M476.1,119.4 L484.4,122.3" stroke="#cfc6be" stroke-width="0.7" opacity="0.7"/>
<path d="M475.0,100.7 L485.8,105.0" stroke="#cfc6be" stroke-width="0.7" opacity="0.7"/>
<path d="M473.0,110.9 L477.1,112.0" stroke="#cfc6be" stroke-width="0.7" opacity="0.7"/>
<path d="M473.9,88.1 L482.6,92.5" stroke="#cfc6be" stroke-width="0.7" opacity="0.7"/>
<path d="M474.8,115.6 L478.1,120.4" stroke="#cfc6be" stroke-width="0.7" opacity="0.7"/>
<path d="M476.0,108.3 L483.8,110.9" stroke="#cfc6be" stroke-width="0.7" opacity="0.7"/>
<path d="M472.5,79.2 L479.4,84.8" stroke="#cfc6be" stroke-width="0.7" opacity="0.7"/>
<path d="M475.5,114.4 L469.7,117.4" stroke="#cfc6be" stroke-width="0.7" opacity="0.7"/>
<path d="M476.7,82.7 L473.0,85.3" stroke="#cfc6be" stroke-width="0.7" opacity="0.7"/>
<path d="M474.0,103.1 L464.9,106.6" stroke="#cfc6be" stroke-width="0.7" opacity="0.7"/>
<path d="M472.4,105.1 L481.1,106.9" stroke="#cfc6be" stroke-width="0.7" opacity="0.7"/>
<path d="M474.5,100.2 L467.7,105.7" stroke="#cfc6be" stroke-width="0.7" opacity="0.7"/>
<path d="M473.1,108.3 L479.2,111.7" stroke="#cfc6be" stroke-width="0.7" opacity="0.7"/>
<path d="M475.6,93.5 L483.3,98.2" stroke="#cfc6be" stroke-width="0.7" opacity="0.7"/>
<path d="M476.1,73.6 L485.5,75.8" stroke="#cfc6be" stroke-width="0.7" opacity="0.7"/>
<path d="M476.3,112.3 L471.6,114.3" stroke="#cfc6be" stroke-width="0.7" opacity="0.7"/>
<path d="M475.1,102.2 L482.3,106.6" stroke="#cfc6be" stroke-width="0.7" opacity="0.7"/>
<path d="M476.1,86.2 L483.6,88.6" stroke="#cfc6be" stroke-width="0.7" opacity="0.7"/>
<path d="M476.0,120.5 L472.8,125.4" stroke="#cfc6be" stroke-width="0.7" opacity="0.7"/>
<path d="M471.5,104.0 L474.7,108.3" stroke="#cfc6be" stroke-width="0.7" opacity="0.7"/>
<path d="M471.9,92.6 L477.9,98.1" stroke="#cfc6be" stroke-width="0.7" opacity="0.7"/>
<path d="M474.7,94.7 L482.7,100.3" stroke="#cfc6be" stroke-width="0.7" opacity="0.7"/>
<path d="M473.1,116.0 L468.9,118.6" stroke="#cfc6be" stroke-width="0.7" opacity="0.7"/>
<path d="M473.4,116.9 L462.4,120.1" stroke="#cfc6be" stroke-width="0.7" opacity="0.7"/>
<path d="M473.0,117.4 L464.5,120.8" stroke="#cfc6be" stroke-width="0.7" opacity="0.7"/>
<path d="M476.0,95.9 L468.1,97.8" stroke="#cfc6be" stroke-width="0.7" opacity="0.7"/>
<path d="M476.9,74.3 L481.3,76.9" stroke="#cfc6be" stroke-width="0.7" opacity="0.7"/>
<path d="M476.5,88.3 L486.3,91.1" stroke="#cfc6be" stroke-width="0.7" opacity="0.7"/>
<path d="M473.7,95.9 L470.4,101.1" stroke="#cfc6be" stroke-width="0.7" opacity="0.7"/>
<path d="M475.0,68.0 L475.9,71.4 L475.9,74.8 L475.4,78.2 L476.1,81.6 L476.0,85.0 L475.9,88.3 L476.2,91.7 L475.5,95.0 L474.1,98.3 L474.5,101.7 L474.0,105.0 L473.8,108.0 L473.6,111.0 L472.2,114.0 L471.1,117.0 L471.0,120.0 L470.9,123.0 L469.4,126.0 L469.0,129.0 L469.3,132.0 L468.0,135.0 L467.8,139.0 L466.0,143.0" stroke="#bdb5b1" stroke-width="1.2" fill="none" opacity="0.85" stroke-linejoin="round"/>
<path d="M475.0,68.0 L473.1,70.0 L470.0,72.0 L468.4,75.2 L466.2,78.5 L464.3,81.8 L463.0,85.0 L463.9,88.3 L462.6,91.7 L462.9,95.0 L462.5,98.3 L462.9,101.7 L463.0,105.0" stroke="#bdb5b1" stroke-width="0.9" fill="none" opacity="0.85" stroke-linejoin="round"/>
<line x1="475" y1="54" x2="475" y2="68" stroke="#c9d9a0" stroke-width="1.3"/>
<line x1="475" y1="54" x2="461" y2="54" stroke="#b3d563" stroke-width="1.2"/>
<line x1="475" y1="54" x2="479" y2="43" stroke="#b3d563" stroke-width="1.2"/>
<line x1="475" y1="54" x2="487" y2="55" stroke="#b3d563" stroke-width="1.2"/>
<line x1="475" y1="54" x2="470" y2="69" stroke="#b3d563" stroke-width="1.2"/>
<line x1="475" y1="54" x2="482" y2="68" stroke="#b3d563" stroke-width="1.2"/>
<line x1="475" y1="54" x2="474" y2="48" stroke="#b3d563" stroke-width="1.2"/>
<ellipse cx="461" cy="54" rx="4.5" ry="2.7" transform="rotate(180 461 54)" fill="#7fae28"/>
<ellipse cx="460.4" cy="53.4" rx="3.2" ry="1.8" transform="rotate(180 461 54)" fill="#b5d660" opacity="0.6"/>
<ellipse cx="468.7" cy="54.0" rx="2.4" ry="1.5" transform="rotate(205 468.7 54.0)" fill="#8fbd33" opacity="0.85"/>
<ellipse cx="479" cy="43" rx="4.0" ry="3.1" transform="rotate(-70 479 43)" fill="#8fbd33"/>
<ellipse cx="478.4" cy="42.4" rx="2.8" ry="2.1" transform="rotate(-70 479 43)" fill="#b5d660" opacity="0.6"/>
<ellipse cx="476.8" cy="49.0" rx="2.4" ry="1.5" transform="rotate(-45 476.8 49.0)" fill="#8fbd33" opacity="0.85"/>
<ellipse cx="487" cy="55" rx="4.5" ry="3.1" transform="rotate(5 487 55)" fill="#97c23a"/>
<ellipse cx="486.4" cy="54.4" rx="3.2" ry="2.1" transform="rotate(5 487 55)" fill="#b5d660" opacity="0.6"/>
<ellipse cx="480.4" cy="54.5" rx="2.4" ry="1.5" transform="rotate(30 480.4 54.5)" fill="#8fbd33" opacity="0.85"/>
<ellipse cx="470" cy="69" rx="4.0" ry="3.6" transform="rotate(108 470 69)" fill="#86b52c"/>
<ellipse cx="469.4" cy="68.4" rx="2.8" ry="2.4" transform="rotate(108 470 69)" fill="#b5d660" opacity="0.6"/>
<ellipse cx="472.8" cy="60.8" rx="2.4" ry="1.5" transform="rotate(133 472.8 60.8)" fill="#8fbd33" opacity="0.85"/>
<ellipse cx="482" cy="68" rx="4.0" ry="3.1" transform="rotate(63 482 68)" fill="#86b52c"/>
<ellipse cx="481.4" cy="67.4" rx="2.8" ry="2.1" transform="rotate(63 482 68)" fill="#b5d660" opacity="0.6"/>
<ellipse cx="478.1" cy="60.3" rx="2.4" ry="1.5" transform="rotate(88 478.1 60.3)" fill="#8fbd33" opacity="0.85"/>
<ellipse cx="474" cy="48" rx="3.5" ry="2.2" transform="rotate(-99 474 48)" fill="#86b52c"/>
<ellipse cx="473.4" cy="47.4" rx="2.4" ry="1.5" transform="rotate(-99 474 48)" fill="#b5d660" opacity="0.6"/>
<ellipse cx="474.6" cy="51.3" rx="2.4" ry="1.5" transform="rotate(-74 474.6 51.3)" fill="#8fbd33" opacity="0.85"/>
<circle cx="475" cy="54" r="2" fill="#b8d96a"/>
</g>
<rect x="490.3" y="141.8" width="2.4" height="21.8" fill="#fff"/></g>
<g clip-path="url(#cp8)"><rect x="506.2" y="35.2" width="40.4" height="131.2" fill="url(#pg2)"/>
<g filter="url(#bl)">
<ellipse cx="523" cy="88" rx="4.8" ry="17.6" fill="url(#mass)"/>
<path d="M523.9,98.8 L531.2,103.3" stroke="#cfc6be" stroke-width="0.7" opacity="0.7"/>
<path d="M522.3,93.9 L528.3,95.3" stroke="#cfc6be" stroke-width="0.7" opacity="0.7"/>
<path d="M521.4,91.6 L527.9,97.5" stroke="#cfc6be" stroke-width="0.7" opacity="0.7"/>
<path d="M522.0,93.7 L527.7,95.9" stroke="#cfc6be" stroke-width="0.7" opacity="0.7"/>
<path d="M523.5,80.3 L517.7,83.6" stroke="#cfc6be" stroke-width="0.7" opacity="0.7"/>
<path d="M522.6,90.4 L518.9,92.3" stroke="#cfc6be" stroke-width="0.7" opacity="0.7"/>
<path d="M523.6,89.8 L530.5,94.5" stroke="#cfc6be" stroke-width="0.7" opacity="0.7"/>
<path d="M522.0,89.9 L525.5,92.0" stroke="#cfc6be" stroke-width="0.7" opacity="0.7"/>
<path d="M522.7,97.9 L519.5,99.4" stroke="#cfc6be" stroke-width="0.7" opacity="0.7"/>
<path d="M523.5,101.4 L531.5,102.8" stroke="#cfc6be" stroke-width="0.7" opacity="0.7"/>
<path d="M524.6,76.2 L531.7,77.6" stroke="#cfc6be" stroke-width="0.7" opacity="0.7"/>
<path d="M523.3,88.3 L520.2,91.4" stroke="#cfc6be" stroke-width="0.7" opacity="0.7"/>
<path d="M524.5,79.1 L529.0,80.5" stroke="#cfc6be" stroke-width="0.7" opacity="0.7"/>
<path d="M524.7,80.6 L516.5,84.8" stroke="#cfc6be" stroke-width="0.7" opacity="0.7"/>
<path d="M523.8,96.9 L517.8,99.4" stroke="#cfc6be" stroke-width="0.7" opacity="0.7"/>
<path d="M523.4,84.0 L527.0,86.8" stroke="#cfc6be" stroke-width="0.7" opacity="0.7"/>
<path d="M522.8,86.3 L517.7,87.3" stroke="#cfc6be" stroke-width="0.7" opacity="0.7"/>
<path d="M522.3,75.0 L529.9,77.6" stroke="#cfc6be" stroke-width="0.7" opacity="0.7"/>
<path d="M521.1,86.4 L530.1,90.4" stroke="#cfc6be" stroke-width="0.7" opacity="0.7"/>
<path d="M521.8,73.4 L516.1,75.3" stroke="#cfc6be" stroke-width="0.7" opacity="0.7"/>
<path d="M524.5,81.0 L533.4,83.6" stroke="#cfc6be" stroke-width="0.7" opacity="0.7"/>
<path d="M521.8,84.5 L525.8,85.9" stroke="#cfc6be" stroke-width="0.7" opacity="0.7"/>
<path d="M523.4,92.1 L516.8,95.7" stroke="#cfc6be" stroke-width="0.7" opacity="0.7"/>
<path d="M524.0,94.7 L515.3,98.5" stroke="#cfc6be" stroke-width="0.7" opacity="0.7"/>
<path d="M524.8,92.6 L533.5,94.6" stroke="#cfc6be" stroke-width="0.7" opacity="0.7"/>
<path d="M523.8,95.7 L517.0,98.6" stroke="#cfc6be" stroke-width="0.7" opacity="0.7"/>
<path d="M522.7,82.9 L518.4,84.0" stroke="#cfc6be" stroke-width="0.7" opacity="0.7"/>
<path d="M523.5,74.7 L531.9,77.6" stroke="#cfc6be" stroke-width="0.7" opacity="0.7"/>
<path d="M522.1,90.4 L529.6,95.7" stroke="#cfc6be" stroke-width="0.7" opacity="0.7"/>
<path d="M524.1,91.8 L518.7,94.8" stroke="#cfc6be" stroke-width="0.7" opacity="0.7"/>
<path d="M522.6,92.9 L516.8,95.5" stroke="#cfc6be" stroke-width="0.7" opacity="0.7"/>
<path d="M522.2,92.8 L515.0,97.6" stroke="#cfc6be" stroke-width="0.7" opacity="0.7"/>
<path d="M522.1,80.2 L528.2,82.9" stroke="#cfc6be" stroke-width="0.7" opacity="0.7"/>
<path d="M522.2,99.4 L516.8,100.8" stroke="#cfc6be" stroke-width="0.7" opacity="0.7"/>
<path d="M526.0,68.0 L525.3,71.4 L524.8,74.8 L525.4,78.2 L524.5,81.6 L524.0,85.0 L523.7,88.0 L522.3,91.0 L522.4,94.0 L521.4,97.0 L520.0,100.0 L519.5,103.0 L519.6,106.0 L517.8,109.0 L517.1,112.0 L517.0,115.0 L517.1,118.3 L516.5,121.7 L515.0,125.0 L514.9,128.0 L514.2,131.0 L512.4,134.0 L512.1,137.0 L512.0,140.0 L512.1,143.0 L510.3,146.0 L510.5,149.0 L509.9,152.0 L510.0,155.0" stroke="#bdb5b1" stroke-width="1.2" fill="none" opacity="0.85" stroke-linejoin="round"/>
<line x1="526" y1="54" x2="526" y2="68" stroke="#c9d9a0" stroke-width="1.3"/>
<line x1="526" y1="54" x2="525" y2="43" stroke="#b3d563" stroke-width="1.2"/>
<line x1="526" y1="54" x2="535" y2="46" stroke="#b3d563" stroke-width="1.2"/>
<line x1="526" y1="54" x2="517" y2="50" stroke="#b3d563" stroke-width="1.2"/>
<line x1="526" y1="54" x2="539" y2="64" stroke="#b3d563" stroke-width="1.2"/>
<line x1="526" y1="54" x2="528" y2="69" stroke="#b3d563" stroke-width="1.2"/>
<line x1="526" y1="54" x2="520" y2="63" stroke="#b3d563" stroke-width="1.2"/>
<ellipse cx="525" cy="43" rx="4.0" ry="2.7" transform="rotate(-95 525 43)" fill="#8fbd33"/>
<ellipse cx="524.4" cy="42.4" rx="2.8" ry="1.8" transform="rotate(-95 525 43)" fill="#b5d660" opacity="0.6"/>
<ellipse cx="525.5" cy="49.0" rx="2.4" ry="1.5" transform="rotate(-70 525.5 49.0)" fill="#8fbd33" opacity="0.85"/>
<ellipse cx="535" cy="46" rx="4.0" ry="2.7" transform="rotate(-42 535 46)" fill="#7fae28"/>
<ellipse cx="534.4" cy="45.4" rx="2.8" ry="1.8" transform="rotate(-42 535 46)" fill="#b5d660" opacity="0.6"/>
<ellipse cx="530.0" cy="50.4" rx="2.4" ry="1.5" transform="rotate(-17 530.0 50.4)" fill="#8fbd33" opacity="0.85"/>
<ellipse cx="517" cy="50" rx="4.0" ry="2.7" transform="rotate(-156 517 50)" fill="#97c23a"/>
<ellipse cx="516.4" cy="49.4" rx="2.8" ry="1.8" transform="rotate(-156 517 50)" fill="#b5d660" opacity="0.6"/>
<ellipse cx="522.0" cy="52.2" rx="2.4" ry="1.5" transform="rotate(-131 522.0 52.2)" fill="#8fbd33" opacity="0.85"/>
<ellipse cx="539" cy="64" rx="4.0" ry="3.6" transform="rotate(38 539 64)" fill="#8fbd33"/>
<ellipse cx="538.4" cy="63.4" rx="2.8" ry="2.4" transform="rotate(38 539 64)" fill="#b5d660" opacity="0.6"/>
<ellipse cx="531.9" cy="58.5" rx="2.4" ry="1.5" transform="rotate(63 531.9 58.5)" fill="#8fbd33" opacity="0.85"/>
<ellipse cx="528" cy="69" rx="4.0" ry="3.1" transform="rotate(82 528 69)" fill="#8fbd33"/>
<ellipse cx="527.4" cy="68.4" rx="2.8" ry="2.1" transform="rotate(82 528 69)" fill="#b5d660" opacity="0.6"/>
<ellipse cx="526.9" cy="60.8" rx="2.4" ry="1.5" transform="rotate(107 526.9 60.8)" fill="#8fbd33" opacity="0.85"/>
<ellipse cx="520" cy="63" rx="3.5" ry="2.7" transform="rotate(124 520 63)" fill="#86b52c"/>
<ellipse cx="519.4" cy="62.4" rx="2.4" ry="1.8" transform="rotate(124 520 63)" fill="#b5d660" opacity="0.6"/>
<ellipse cx="523.3" cy="58.0" rx="2.4" ry="1.5" transform="rotate(149 523.3 58.0)" fill="#8fbd33" opacity="0.85"/>
<circle cx="526" cy="54" r="2" fill="#b8d96a"/>
</g>
<rect x="541.0" y="141.8" width="2.4" height="21.8" fill="#fff"/></g>
<g>
<text x="3.2" y="188.1" font-size="10.3" font-weight="bold" style="stroke-width:0.35px">B.</text>
<line x1="35.3" y1="326.60" x2="37.5" y2="326.60" stroke="#000" stroke-width="1.1"/>
<text transform="translate(27.5,329.35) scale(0.935,1)" font-size="9.3" font-weight="bold" text-anchor="end">0</text>
<line x1="35.3" y1="304.55" x2="124.0" y2="304.55" stroke="#e0e0e0" stroke-width="1"/>
<line x1="35.3" y1="304.55" x2="37.5" y2="304.55" stroke="#000" stroke-width="1.1"/>
<text transform="translate(27.5,307.30) scale(0.935,1)" font-size="9.3" font-weight="bold" text-anchor="end">10</text>
<line x1="35.3" y1="282.50" x2="124.0" y2="282.50" stroke="#e0e0e0" stroke-width="1"/>
<line x1="35.3" y1="282.50" x2="37.5" y2="282.50" stroke="#000" stroke-width="1.1"/>
<text transform="translate(27.5,285.25) scale(0.935,1)" font-size="9.3" font-weight="bold" text-anchor="end">20</text>
<line x1="35.3" y1="260.45" x2="124.0" y2="260.45" stroke="#e0e0e0" stroke-width="1"/>
<line x1="35.3" y1="260.45" x2="37.5" y2="260.45" stroke="#000" stroke-width="1.1"/>
<text transform="translate(27.5,263.20) scale(0.935,1)" font-size="9.3" font-weight="bold" text-anchor="end">30</text>
<line x1="35.3" y1="238.40" x2="124.0" y2="238.40" stroke="#e0e0e0" stroke-width="1"/>
<line x1="35.3" y1="238.40" x2="37.5" y2="238.40" stroke="#000" stroke-width="1.1"/>
<text transform="translate(27.5,241.15) scale(0.935,1)" font-size="9.3" font-weight="bold" text-anchor="end">40</text>
<line x1="35.3" y1="216.35" x2="124.0" y2="216.35" stroke="#e0e0e0" stroke-width="1"/>
<line x1="35.3" y1="216.35" x2="37.5" y2="216.35" stroke="#000" stroke-width="1.1"/>
<text transform="translate(27.5,219.10) scale(0.935,1)" font-size="9.3" font-weight="bold" text-anchor="end">50</text>
<line x1="35.3" y1="194.30" x2="124.0" y2="194.30" stroke="#e0e0e0" stroke-width="1"/>
<line x1="35.3" y1="194.30" x2="37.5" y2="194.30" stroke="#000" stroke-width="1.1"/>
<text transform="translate(27.5,197.05) scale(0.935,1)" font-size="9.3" font-weight="bold" text-anchor="end">60</text>
<line x1="35.3" y1="193.70" x2="35.3" y2="327.40" stroke="#000" stroke-width="1.7"/>
<line x1="34.5" y1="326.60" x2="124.0" y2="326.60" stroke="#000" stroke-width="1.7"/>
<rect x="40.19" y="242.81" width="19.79" height="83.79" fill="#e2f0d9" stroke="#000" stroke-width="1.5"/>
<path d="M50.08,242.81 V236.20 M47.58,236.20 H52.58" stroke="#000" stroke-width="1.5" fill="none"/>
<text transform="translate(50.08,339.20) scale(0.915,1)" font-size="9.4" font-weight="bold" text-anchor="middle">0.0<tspan font-weight="normal">µ</tspan>M</text>
<rect x="69.76" y="227.38" width="19.79" height="99.23" fill="#a9d18e" stroke="#000" stroke-width="1.5"/>
<path d="M79.65,227.38 V218.56 M77.15,218.56 H82.15" stroke="#000" stroke-width="1.5" fill="none"/>
<text x="79.65" y="215.96" font-size="14" font-weight="bold" text-anchor="middle" style="stroke-width:0.2px">*</text>
<text transform="translate(79.65,339.20) scale(0.915,1)" font-size="9.4" font-weight="bold" text-anchor="middle">0.1<tspan font-weight="normal">µ</tspan>M</text>
<rect x="99.32" y="233.99" width="19.79" height="92.61" fill="#548235" stroke="#000" stroke-width="1.5"/>
<path d="M109.22,233.99 V226.49 M106.72,226.49 H111.72" stroke="#000" stroke-width="1.5" fill="none"/>
<text transform="translate(109.22,339.20) scale(0.915,1)" font-size="9.4" font-weight="bold" text-anchor="middle">1.0<tspan font-weight="normal">µ</tspan>M</text>
<text transform="translate(9.4,260.8) rotate(-90)" x="0" y="0" font-size="8.9" font-weight="bold" text-anchor="middle">Primary root length (mm)</text>
</g>
<g>
<text x="144.4" y="188.1" font-size="10.3" font-weight="bold" style="stroke-width:0.35px">C.</text>
<line x1="176.3" y1="326.60" x2="178.5" y2="326.60" stroke="#000" stroke-width="1.1"/>
<text transform="translate(168.5,329.35) scale(0.935,1)" font-size="9.3" font-weight="bold" text-anchor="end">0</text>
<line x1="176.3" y1="300.14" x2="264.1" y2="300.14" stroke="#e0e0e0" stroke-width="1"/>
<line x1="176.3" y1="300.14" x2="178.5" y2="300.14" stroke="#000" stroke-width="1.1"/>
<text transform="translate(168.5,302.89) scale(0.935,1)" font-size="9.3" font-weight="bold" text-anchor="end">10</text>
<line x1="176.3" y1="273.68" x2="264.1" y2="273.68" stroke="#e0e0e0" stroke-width="1"/>
<line x1="176.3" y1="273.68" x2="178.5" y2="273.68" stroke="#000" stroke-width="1.1"/>
<text transform="translate(168.5,276.43) scale(0.935,1)" font-size="9.3" font-weight="bold" text-anchor="end">20</text>
<line x1="176.3" y1="247.22" x2="264.1" y2="247.22" stroke="#e0e0e0" stroke-width="1"/>
<line x1="176.3" y1="247.22" x2="178.5" y2="247.22" stroke="#000" stroke-width="1.1"/>
<text transform="translate(168.5,249.97) scale(0.935,1)" font-size="9.3" font-weight="bold" text-anchor="end">30</text>
<line x1="176.3" y1="220.76" x2="264.1" y2="220.76" stroke="#e0e0e0" stroke-width="1"/>
<line x1="176.3" y1="220.76" x2="178.5" y2="220.76" stroke="#000" stroke-width="1.1"/>
<text transform="translate(168.5,223.51) scale(0.935,1)" font-size="9.3" font-weight="bold" text-anchor="end">40</text>
<line x1="176.3" y1="194.30" x2="264.1" y2="194.30" stroke="#e0e0e0" stroke-width="1"/>
<line x1="176.3" y1="194.30" x2="178.5" y2="194.30" stroke="#000" stroke-width="1.1"/>
<text transform="translate(168.5,197.05) scale(0.935,1)" font-size="9.3" font-weight="bold" text-anchor="end">50</text>
<line x1="176.3" y1="193.70" x2="176.3" y2="327.40" stroke="#000" stroke-width="1.7"/>
<line x1="175.5" y1="326.60" x2="264.1" y2="326.60" stroke="#000" stroke-width="1.7"/>
<rect x="181.15" y="294.85" width="19.57" height="31.75" fill="#e2f0d9" stroke="#000" stroke-width="1.5"/>
<path d="M190.93,294.85 V290.88 M188.43,290.88 H193.43" stroke="#000" stroke-width="1.5" fill="none"/>
<text transform="translate(190.93,339.20) scale(0.915,1)" font-size="9.4" font-weight="bold" text-anchor="middle">0.0<tspan font-weight="normal">µ</tspan>M</text>
<rect x="210.41" y="268.39" width="19.57" height="58.21" fill="#a9d18e" stroke="#000" stroke-width="1.5"/>
<path d="M220.20,268.39 V260.45 M217.70,260.45 H222.70" stroke="#000" stroke-width="1.5" fill="none"/>
<text x="213.00" y="257.85" font-size="14" font-weight="bold" text-anchor="middle" style="stroke-width:0.2px">*</text>
<text x="220.20" y="257.85" font-size="14" font-weight="bold" text-anchor="middle" style="stroke-width:0.2px">*</text>
<text x="227.40" y="257.85" font-size="14" font-weight="bold" text-anchor="middle" style="stroke-width:0.2px">*</text>
<text transform="translate(220.20,339.20) scale(0.915,1)" font-size="9.4" font-weight="bold" text-anchor="middle">0.1<tspan font-weight="normal">µ</tspan>M</text>
<rect x="239.68" y="228.70" width="19.57" height="97.90" fill="#548235" stroke="#000" stroke-width="1.5"/>
<path d="M249.47,228.70 V222.08 M246.97,222.08 H251.97" stroke="#000" stroke-width="1.5" fill="none"/>
<text x="242.27" y="219.48" font-size="14" font-weight="bold" text-anchor="middle" style="stroke-width:0.2px">*</text>
<text x="249.47" y="219.48" font-size="14" font-weight="bold" text-anchor="middle" style="stroke-width:0.2px">*</text>
<text x="256.67" y="219.48" font-size="14" font-weight="bold" text-anchor="middle" style="stroke-width:0.2px">*</text>
<text transform="translate(249.47,339.20) scale(0.915,1)" font-size="9.4" font-weight="bold" text-anchor="middle">1.0<tspan font-weight="normal">µ</tspan>M</text>
<text transform="translate(150.6,260.8) rotate(-90)" x="0" y="0" font-size="8.9" font-weight="bold" text-anchor="middle">Lateral root number</text>
</g>
<g>
<text x="285.2" y="188.1" font-size="10.3" font-weight="bold" style="stroke-width:0.35px">D.</text>
<line x1="312.3" y1="326.60" x2="314.5" y2="326.60" stroke="#000" stroke-width="1.1"/>
<text transform="translate(304.5,329.35) scale(0.935,1)" font-size="9.3" font-weight="bold" text-anchor="end">0</text>
<line x1="312.3" y1="304.55" x2="405.5" y2="304.55" stroke="#e0e0e0" stroke-width="1"/>
<line x1="312.3" y1="304.55" x2="314.5" y2="304.55" stroke="#000" stroke-width="1.1"/>
<text transform="translate(304.5,307.30) scale(0.935,1)" font-size="9.3" font-weight="bold" text-anchor="end">1</text>
<line x1="312.3" y1="282.50" x2="405.5" y2="282.50" stroke="#e0e0e0" stroke-width="1"/>
<line x1="312.3" y1="282.50" x2="314.5" y2="282.50" stroke="#000" stroke-width="1.1"/>
<text transform="translate(304.5,285.25) scale(0.935,1)" font-size="9.3" font-weight="bold" text-anchor="end">2</text>
<line x1="312.3" y1="260.45" x2="405.5" y2="260.45" stroke="#e0e0e0" stroke-width="1"/>
<line x1="312.3" y1="260.45" x2="314.5" y2="260.45" stroke="#000" stroke-width="1.1"/>
<text transform="translate(304.5,263.20) scale(0.935,1)" font-size="9.3" font-weight="bold" text-anchor="end">3</text>
<line x1="312.3" y1="238.40" x2="405.5" y2="238.40" stroke="#e0e0e0" stroke-width="1"/>
<line x1="312.3" y1="238.40" x2="314.5" y2="238.40" stroke="#000" stroke-width="1.1"/>
<text transform="translate(304.5,241.15) scale(0.935,1)" font-size="9.3" font-weight="bold" text-anchor="end">4</text>
<line x1="312.3" y1="216.35" x2="405.5" y2="216.35" stroke="#e0e0e0" stroke-width="1"/>
<line x1="312.3" y1="216.35" x2="314.5" y2="216.35" stroke="#000" stroke-width="1.1"/>
<text transform="translate(304.5,219.10) scale(0.935,1)" font-size="9.3" font-weight="bold" text-anchor="end">5</text>
<line x1="312.3" y1="194.30" x2="405.5" y2="194.30" stroke="#e0e0e0" stroke-width="1"/>
<line x1="312.3" y1="194.30" x2="314.5" y2="194.30" stroke="#000" stroke-width="1.1"/>
<text transform="translate(304.5,197.05) scale(0.935,1)" font-size="9.3" font-weight="bold" text-anchor="end">6</text>
<line x1="312.3" y1="193.70" x2="312.3" y2="327.40" stroke="#000" stroke-width="1.7"/>
<line x1="311.5" y1="326.60" x2="405.5" y2="326.60" stroke="#000" stroke-width="1.7"/>
<rect x="317.40" y="293.53" width="20.87" height="33.07" fill="#e2f0d9" stroke="#000" stroke-width="1.5"/>
<path d="M327.83,293.53 V283.38 M325.33,283.38 H330.33" stroke="#000" stroke-width="1.5" fill="none"/>
<text transform="translate(327.83,339.20) scale(0.915,1)" font-size="9.4" font-weight="bold" text-anchor="middle">0.0<tspan font-weight="normal">µ</tspan>M</text>
<rect x="348.47" y="286.91" width="20.87" height="39.69" fill="#a9d18e" stroke="#000" stroke-width="1.5"/>
<path d="M358.90,286.91 V275.89 M356.40,275.89 H361.40" stroke="#000" stroke-width="1.5" fill="none"/>
<text transform="translate(358.90,339.20) scale(0.915,1)" font-size="9.4" font-weight="bold" text-anchor="middle">0.1<tspan font-weight="normal">µ</tspan>M</text>
<rect x="379.53" y="229.58" width="20.87" height="97.02" fill="#548235" stroke="#000" stroke-width="1.5"/>
<path d="M389.97,229.58 V209.74 M387.47,209.74 H392.47" stroke="#000" stroke-width="1.5" fill="none"/>
<text x="382.77" y="207.14" font-size="14" font-weight="bold" text-anchor="middle" style="stroke-width:0.2px">*</text>
<text x="389.97" y="207.14" font-size="14" font-weight="bold" text-anchor="middle" style="stroke-width:0.2px">*</text>
<text x="397.17" y="207.14" font-size="14" font-weight="bold" text-anchor="middle" style="stroke-width:0.2px">*</text>
<text transform="translate(389.97,339.20) scale(0.915,1)" font-size="9.4" font-weight="bold" text-anchor="middle">1.0<tspan font-weight="normal">µ</tspan>M</text>
<text transform="translate(291.4,260.8) rotate(-90)" x="0" y="0" font-size="8.9" font-weight="bold" text-anchor="middle">Adventitious root number</text>
</g>
<g>
<text x="426.3" y="188.1" font-size="10.3" font-weight="bold" style="stroke-width:0.35px">E.</text>
<line x1="458.6" y1="326.60" x2="460.8" y2="326.60" stroke="#000" stroke-width="1.1"/>
<text transform="translate(450.8,329.35) scale(0.935,1)" font-size="9.3" font-weight="bold" text-anchor="end">0</text>
<line x1="458.6" y1="307.70" x2="546.0" y2="307.70" stroke="#e0e0e0" stroke-width="1"/>
<line x1="458.6" y1="307.70" x2="460.8" y2="307.70" stroke="#000" stroke-width="1.1"/>
<text transform="translate(450.8,310.45) scale(0.935,1)" font-size="9.3" font-weight="bold" text-anchor="end">5</text>
<line x1="458.6" y1="288.80" x2="546.0" y2="288.80" stroke="#e0e0e0" stroke-width="1"/>
<line x1="458.6" y1="288.80" x2="460.8" y2="288.80" stroke="#000" stroke-width="1.1"/>
<text transform="translate(450.8,291.55) scale(0.935,1)" font-size="9.3" font-weight="bold" text-anchor="end">10</text>
<line x1="458.6" y1="269.90" x2="546.0" y2="269.90" stroke="#e0e0e0" stroke-width="1"/>
<line x1="458.6" y1="269.90" x2="460.8" y2="269.90" stroke="#000" stroke-width="1.1"/>
<text transform="translate(450.8,272.65) scale(0.935,1)" font-size="9.3" font-weight="bold" text-anchor="end">15</text>
<line x1="458.6" y1="251.00" x2="546.0" y2="251.00" stroke="#e0e0e0" stroke-width="1"/>
<line x1="458.6" y1="251.00" x2="460.8" y2="251.00" stroke="#000" stroke-width="1.1"/>
<text transform="translate(450.8,253.75) scale(0.935,1)" font-size="9.3" font-weight="bold" text-anchor="end">20</text>
<line x1="458.6" y1="232.10" x2="546.0" y2="232.10" stroke="#e0e0e0" stroke-width="1"/>
<line x1="458.6" y1="232.10" x2="460.8" y2="232.10" stroke="#000" stroke-width="1.1"/>
<text transform="translate(450.8,234.85) scale(0.935,1)" font-size="9.3" font-weight="bold" text-anchor="end">25</text>
<line x1="458.6" y1="213.20" x2="546.0" y2="213.20" stroke="#e0e0e0" stroke-width="1"/>
<line x1="458.6" y1="213.20" x2="460.8" y2="213.20" stroke="#000" stroke-width="1.1"/>
<text transform="translate(450.8,215.95) scale(0.935,1)" font-size="9.3" font-weight="bold" text-anchor="end">30</text>
<line x1="458.6" y1="194.30" x2="546.0" y2="194.30" stroke="#e0e0e0" stroke-width="1"/>
<line x1="458.6" y1="194.30" x2="460.8" y2="194.30" stroke="#000" stroke-width="1.1"/>
<text transform="translate(450.8,197.05) scale(0.935,1)" font-size="9.3" font-weight="bold" text-anchor="end">35</text>
<line x1="458.6" y1="193.70" x2="458.6" y2="327.40" stroke="#000" stroke-width="1.7"/>
<line x1="457.8" y1="326.60" x2="546.0" y2="326.60" stroke="#000" stroke-width="1.7"/>
<rect x="463.43" y="224.54" width="19.48" height="102.06" fill="#e2f0d9" stroke="#000" stroke-width="1.5"/>
<path d="M473.17,224.54 V222.65 M470.67,222.65 H475.67" stroke="#000" stroke-width="1.5" fill="none"/>
<text transform="translate(473.17,339.20) scale(0.915,1)" font-size="9.4" font-weight="bold" text-anchor="middle">0.0<tspan font-weight="normal">µ</tspan>M</text>
<rect x="492.56" y="220.76" width="19.48" height="105.84" fill="#a9d18e" stroke="#000" stroke-width="1.5"/>
<path d="M502.30,220.76 V205.64 M499.80,205.64 H504.80" stroke="#000" stroke-width="1.5" fill="none"/>
<text transform="translate(502.30,339.20) scale(0.915,1)" font-size="9.4" font-weight="bold" text-anchor="middle">0.1<tspan font-weight="normal">µ</tspan>M</text>
<rect x="521.70" y="249.11" width="19.48" height="77.49" fill="#548235" stroke="#000" stroke-width="1.5"/>
<path d="M531.43,249.11 V248.73 M528.93,248.73 H533.93" stroke="#000" stroke-width="1.5" fill="none"/>
<text x="527.83" y="246.13" font-size="14" font-weight="bold" text-anchor="middle" style="stroke-width:0.2px">*</text>
<text x="535.03" y="246.13" font-size="14" font-weight="bold" text-anchor="middle" style="stroke-width:0.2px">*</text>
<text transform="translate(531.43,339.20) scale(0.915,1)" font-size="9.4" font-weight="bold" text-anchor="middle">1.0<tspan font-weight="normal">µ</tspan>M</text>
<text transform="translate(432.5,260.8) rotate(-90)" x="0" y="0" font-size="8.9" font-weight="bold" text-anchor="middle">Rosette surface area (mm<tspan font-size="6" dy="-3">2</tspan><tspan dy="3">)</tspan></text>
</g>
<g>
<text x="3.2" y="360.4" font-size="10.3" font-weight="bold" style="stroke-width:0.35px">F.</text>
<line x1="37.6" y1="498.90" x2="39.8" y2="498.90" stroke="#000" stroke-width="1.1"/>
<text transform="translate(29.8,501.65) scale(0.935,1)" font-size="9.3" font-weight="bold" text-anchor="end">0.0</text>
<line x1="37.6" y1="476.85" x2="124.0" y2="476.85" stroke="#e0e0e0" stroke-width="1"/>
<line x1="37.6" y1="476.85" x2="39.8" y2="476.85" stroke="#000" stroke-width="1.1"/>
<text transform="translate(29.8,479.60) scale(0.935,1)" font-size="9.3" font-weight="bold" text-anchor="end">0.2</text>
<line x1="37.6" y1="454.80" x2="124.0" y2="454.80" stroke="#e0e0e0" stroke-width="1"/>
<line x1="37.6" y1="454.80" x2="39.8" y2="454.80" stroke="#000" stroke-width="1.1"/>
<text transform="translate(29.8,457.55) scale(0.935,1)" font-size="9.3" font-weight="bold" text-anchor="end">0.4</text>
<line x1="37.6" y1="432.75" x2="124.0" y2="432.75" stroke="#e0e0e0" stroke-width="1"/>
<line x1="37.6" y1="432.75" x2="39.8" y2="432.75" stroke="#000" stroke-width="1.1"/>
<text transform="translate(29.8,435.50) scale(0.935,1)" font-size="9.3" font-weight="bold" text-anchor="end">0.6</text>
<line x1="37.6" y1="410.70" x2="124.0" y2="410.70" stroke="#e0e0e0" stroke-width="1"/>
<line x1="37.6" y1="410.70" x2="39.8" y2="410.70" stroke="#000" stroke-width="1.1"/>
<text transform="translate(29.8,413.45) scale(0.935,1)" font-size="9.3" font-weight="bold" text-anchor="end">0.8</text>
<line x1="37.6" y1="388.65" x2="124.0" y2="388.65" stroke="#e0e0e0" stroke-width="1"/>
<line x1="37.6" y1="388.65" x2="39.8" y2="388.65" stroke="#000" stroke-width="1.1"/>
<text transform="translate(29.8,391.40) scale(0.935,1)" font-size="9.3" font-weight="bold" text-anchor="end">1.0</text>
<line x1="37.6" y1="366.60" x2="124.0" y2="366.60" stroke="#e0e0e0" stroke-width="1"/>
<line x1="37.6" y1="366.60" x2="39.8" y2="366.60" stroke="#000" stroke-width="1.1"/>
<text transform="translate(29.8,369.35) scale(0.935,1)" font-size="9.3" font-weight="bold" text-anchor="end">1.2</text>
<line x1="37.6" y1="366.00" x2="37.6" y2="499.70" stroke="#000" stroke-width="1.7"/>
<line x1="36.8" y1="498.90" x2="124.0" y2="498.90" stroke="#000" stroke-width="1.7"/>
<rect x="42.38" y="388.65" width="19.24" height="110.25" fill="#e2f0d9" stroke="#000" stroke-width="1.5"/>
<path d="M52.00,388.65 V383.14 M49.50,383.14 H54.50" stroke="#000" stroke-width="1.5" fill="none"/>
<text transform="translate(52.00,511.30) scale(0.915,1)" font-size="9.4" font-weight="bold" text-anchor="middle">0.0<tspan font-weight="normal">µ</tspan>M</text>
<rect x="71.18" y="438.26" width="19.24" height="60.64" fill="#a9d18e" stroke="#000" stroke-width="1.5"/>
<path d="M80.80,438.26 V421.73 M78.30,421.73 H83.30" stroke="#000" stroke-width="1.5" fill="none"/>
<text transform="translate(80.80,511.30) scale(0.915,1)" font-size="9.4" font-weight="bold" text-anchor="middle">0.1<tspan font-weight="normal">µ</tspan>M</text>
<rect x="99.98" y="394.16" width="19.24" height="104.74" fill="#548235" stroke="#000" stroke-width="1.5"/>
<path d="M109.60,394.16 V388.65 M107.10,388.65 H112.10" stroke="#000" stroke-width="1.5" fill="none"/>
<text transform="translate(109.60,511.30) scale(0.915,1)" font-size="9.4" font-weight="bold" text-anchor="middle">1.0<tspan font-weight="normal">µ</tspan>M</text>
<text transform="translate(9.4,433.1) rotate(-90)" x="0" y="0" font-size="8.9" font-weight="bold" text-anchor="middle"><tspan font-style="italic">PRE-MIR160A</tspan> expression</text>
</g>
<g>
<text x="144.4" y="360.4" font-size="10.3" font-weight="bold" style="stroke-width:0.35px">G.</text>
<line x1="179.0" y1="498.90" x2="181.2" y2="498.90" stroke="#000" stroke-width="1.1"/>
<text transform="translate(171.2,501.65) scale(0.935,1)" font-size="9.3" font-weight="bold" text-anchor="end">0.0</text>
<line x1="179.0" y1="472.44" x2="264.1" y2="472.44" stroke="#e0e0e0" stroke-width="1"/>
<line x1="179.0" y1="472.44" x2="181.2" y2="472.44" stroke="#000" stroke-width="1.1"/>
<text transform="translate(171.2,475.19) scale(0.935,1)" font-size="9.3" font-weight="bold" text-anchor="end">0.5</text>
<line x1="179.0" y1="445.98" x2="264.1" y2="445.98" stroke="#e0e0e0" stroke-width="1"/>
<line x1="179.0" y1="445.98" x2="181.2" y2="445.98" stroke="#000" stroke-width="1.1"/>
<text transform="translate(171.2,448.73) scale(0.935,1)" font-size="9.3" font-weight="bold" text-anchor="end">1.0</text>
<line x1="179.0" y1="419.52" x2="264.1" y2="419.52" stroke="#e0e0e0" stroke-width="1"/>
<line x1="179.0" y1="419.52" x2="181.2" y2="419.52" stroke="#000" stroke-width="1.1"/>
<text transform="translate(171.2,422.27) scale(0.935,1)" font-size="9.3" font-weight="bold" text-anchor="end">1.5</text>
<line x1="179.0" y1="393.06" x2="264.1" y2="393.06" stroke="#e0e0e0" stroke-width="1"/>
<line x1="179.0" y1="393.06" x2="181.2" y2="393.06" stroke="#000" stroke-width="1.1"/>
<text transform="translate(171.2,395.81) scale(0.935,1)" font-size="9.3" font-weight="bold" text-anchor="end">2.0</text>
<line x1="179.0" y1="366.60" x2="264.1" y2="366.60" stroke="#e0e0e0" stroke-width="1"/>
<line x1="179.0" y1="366.60" x2="181.2" y2="366.60" stroke="#000" stroke-width="1.1"/>
<text transform="translate(171.2,369.35) scale(0.935,1)" font-size="9.3" font-weight="bold" text-anchor="end">2.5</text>
<line x1="179.0" y1="366.00" x2="179.0" y2="499.70" stroke="#000" stroke-width="1.7"/>
<line x1="178.2" y1="498.90" x2="264.1" y2="498.90" stroke="#000" stroke-width="1.7"/>
<rect x="183.72" y="445.98" width="18.92" height="52.92" fill="#e2f0d9" stroke="#000" stroke-width="1.5"/>
<path d="M193.18,445.98 V435.40 M190.68,435.40 H195.68" stroke="#000" stroke-width="1.5" fill="none"/>
<text transform="translate(193.18,511.30) scale(0.915,1)" font-size="9.4" font-weight="bold" text-anchor="middle">0.0<tspan font-weight="normal">µ</tspan>M</text>
<rect x="212.09" y="456.56" width="18.92" height="42.34" fill="#a9d18e" stroke="#000" stroke-width="1.5"/>
<path d="M221.55,456.56 V447.57 M219.05,447.57 H224.05" stroke="#000" stroke-width="1.5" fill="none"/>
<text transform="translate(221.55,511.30) scale(0.915,1)" font-size="9.4" font-weight="bold" text-anchor="middle">0.1<tspan font-weight="normal">µ</tspan>M</text>
<rect x="240.45" y="401.00" width="18.92" height="97.90" fill="#548235" stroke="#000" stroke-width="1.5"/>
<path d="M249.92,401.00 V395.71 M247.42,395.71 H252.42" stroke="#000" stroke-width="1.5" fill="none"/>
<text x="249.92" y="393.11" font-size="14" font-weight="bold" text-anchor="middle" style="stroke-width:0.2px">*</text>
<text transform="translate(249.92,511.30) scale(0.915,1)" font-size="9.4" font-weight="bold" text-anchor="middle">1.0<tspan font-weight="normal">µ</tspan>M</text>
<text transform="translate(150.6,433.1) rotate(-90)" x="0" y="0" font-size="8.9" font-weight="bold" text-anchor="middle"><tspan font-style="italic">PRE-MIR160B</tspan> expression</text>
</g>
<g>
<text x="285.2" y="360.4" font-size="10.3" font-weight="bold" style="stroke-width:0.35px">H.</text>
<line x1="319.6" y1="498.90" x2="321.8" y2="498.90" stroke="#000" stroke-width="1.1"/>
<text transform="translate(311.8,501.65) scale(0.935,1)" font-size="9.3" font-weight="bold" text-anchor="end">0.0</text>
<line x1="319.6" y1="476.85" x2="405.5" y2="476.85" stroke="#e0e0e0" stroke-width="1"/>
<line x1="319.6" y1="476.85" x2="321.8" y2="476.85" stroke="#000" stroke-width="1.1"/>
<text transform="translate(311.8,479.60) scale(0.935,1)" font-size="9.3" font-weight="bold" text-anchor="end">0.2</text>
<line x1="319.6" y1="454.80" x2="405.5" y2="454.80" stroke="#e0e0e0" stroke-width="1"/>
<line x1="319.6" y1="454.80" x2="321.8" y2="454.80" stroke="#000" stroke-width="1.1"/>
<text transform="translate(311.8,457.55) scale(0.935,1)" font-size="9.3" font-weight="bold" text-anchor="end">0.4</text>
<line x1="319.6" y1="432.75" x2="405.5" y2="432.75" stroke="#e0e0e0" stroke-width="1"/>
<line x1="319.6" y1="432.75" x2="321.8" y2="432.75" stroke="#000" stroke-width="1.1"/>
<text transform="translate(311.8,435.50) scale(0.935,1)" font-size="9.3" font-weight="bold" text-anchor="end">0.6</text>
<line x1="319.6" y1="410.70" x2="405.5" y2="410.70" stroke="#e0e0e0" stroke-width="1"/>
<line x1="319.6" y1="410.70" x2="321.8" y2="410.70" stroke="#000" stroke-width="1.1"/>
<text transform="translate(311.8,413.45) scale(0.935,1)" font-size="9.3" font-weight="bold" text-anchor="end">0.8</text>
<line x1="319.6" y1="388.65" x2="405.5" y2="388.65" stroke="#e0e0e0" stroke-width="1"/>
<line x1="319.6" y1="388.65" x2="321.8" y2="388.65" stroke="#000" stroke-width="1.1"/>
<text transform="translate(311.8,391.40) scale(0.935,1)" font-size="9.3" font-weight="bold" text-anchor="end">1.0</text>
<line x1="319.6" y1="366.60" x2="405.5" y2="366.60" stroke="#e0e0e0" stroke-width="1"/>
<line x1="319.6" y1="366.60" x2="321.8" y2="366.60" stroke="#000" stroke-width="1.1"/>
<text transform="translate(311.8,369.35) scale(0.935,1)" font-size="9.3" font-weight="bold" text-anchor="end">1.2</text>
<line x1="319.6" y1="366.00" x2="319.6" y2="499.70" stroke="#000" stroke-width="1.7"/>
<line x1="318.8" y1="498.90" x2="405.5" y2="498.90" stroke="#000" stroke-width="1.7"/>
<rect x="324.36" y="388.65" width="19.12" height="110.25" fill="#e2f0d9" stroke="#000" stroke-width="1.5"/>
<path d="M333.92,388.65 V377.62 M331.42,377.62 H336.42" stroke="#000" stroke-width="1.5" fill="none"/>
<text transform="translate(333.92,511.30) scale(0.915,1)" font-size="9.4" font-weight="bold" text-anchor="middle">0.0<tspan font-weight="normal">µ</tspan>M</text>
<rect x="352.99" y="443.78" width="19.12" height="55.12" fill="#a9d18e" stroke="#000" stroke-width="1.5"/>
<path d="M362.55,443.78 V438.26 M360.05,438.26 H365.05" stroke="#000" stroke-width="1.5" fill="none"/>
<text x="362.55" y="435.66" font-size="14" font-weight="bold" text-anchor="middle" style="stroke-width:0.2px">*</text>
<text transform="translate(362.55,511.30) scale(0.915,1)" font-size="9.4" font-weight="bold" text-anchor="middle">0.1<tspan font-weight="normal">µ</tspan>M</text>
<rect x="381.63" y="416.21" width="19.12" height="82.69" fill="#548235" stroke="#000" stroke-width="1.5"/>
<path d="M391.18,416.21 V410.70 M388.68,410.70 H393.68" stroke="#000" stroke-width="1.5" fill="none"/>
<text x="391.18" y="408.10" font-size="14" font-weight="bold" text-anchor="middle" style="stroke-width:0.2px">*</text>
<text transform="translate(391.18,511.30) scale(0.915,1)" font-size="9.4" font-weight="bold" text-anchor="middle">1.0<tspan font-weight="normal">µ</tspan>M</text>
<text transform="translate(291.4,433.1) rotate(-90)" x="0" y="0" font-size="8.9" font-weight="bold" text-anchor="middle"><tspan font-style="italic">PRE-MIR160C</tspan> expression</text>
</g>
<g>
<text x="426.3" y="360.4" font-size="10.3" font-weight="bold" style="stroke-width:0.35px">I.</text>
<line x1="461.2" y1="498.90" x2="463.4" y2="498.90" stroke="#000" stroke-width="1.1"/>
<text transform="translate(453.4,501.65) scale(0.935,1)" font-size="9.3" font-weight="bold" text-anchor="end">0.0</text>
<line x1="461.2" y1="476.85" x2="546.0" y2="476.85" stroke="#e0e0e0" stroke-width="1"/>
<line x1="461.2" y1="476.85" x2="463.4" y2="476.85" stroke="#000" stroke-width="1.1"/>
<text transform="translate(453.4,479.60) scale(0.935,1)" font-size="9.3" font-weight="bold" text-anchor="end">0.2</text>
<line x1="461.2" y1="454.80" x2="546.0" y2="454.80" stroke="#e0e0e0" stroke-width="1"/>
<line x1="461.2" y1="454.80" x2="463.4" y2="454.80" stroke="#000" stroke-width="1.1"/>
<text transform="translate(453.4,457.55) scale(0.935,1)" font-size="9.3" font-weight="bold" text-anchor="end">0.4</text>
<line x1="461.2" y1="432.75" x2="546.0" y2="432.75" stroke="#e0e0e0" stroke-width="1"/>
<line x1="461.2" y1="432.75" x2="463.4" y2="432.75" stroke="#000" stroke-width="1.1"/>
<text transform="translate(453.4,435.50) scale(0.935,1)" font-size="9.3" font-weight="bold" text-anchor="end">0.6</text>
<line x1="461.2" y1="410.70" x2="546.0" y2="410.70" stroke="#e0e0e0" stroke-width="1"/>
<line x1="461.2" y1="410.70" x2="463.4" y2="410.70" stroke="#000" stroke-width="1.1"/>
<text transform="translate(453.4,413.45) scale(0.935,1)" font-size="9.3" font-weight="bold" text-anchor="end">0.8</text>
<line x1="461.2" y1="388.65" x2="546.0" y2="388.65" stroke="#e0e0e0" stroke-width="1"/>
<line x1="461.2" y1="388.65" x2="463.4" y2="388.65" stroke="#000" stroke-width="1.1"/>
<text transform="translate(453.4,391.40) scale(0.935,1)" font-size="9.3" font-weight="bold" text-anchor="end">1.0</text>
<line x1="461.2" y1="366.60" x2="546.0" y2="366.60" stroke="#e0e0e0" stroke-width="1"/>
<line x1="461.2" y1="366.60" x2="463.4" y2="366.60" stroke="#000" stroke-width="1.1"/>
<text transform="translate(453.4,369.35) scale(0.935,1)" font-size="9.3" font-weight="bold" text-anchor="end">1.2</text>
<line x1="461.2" y1="366.00" x2="461.2" y2="499.70" stroke="#000" stroke-width="1.7"/>
<line x1="460.4" y1="498.90" x2="546.0" y2="498.90" stroke="#000" stroke-width="1.7"/>
<rect x="465.91" y="388.65" width="18.85" height="110.25" fill="#e2f0d9" stroke="#000" stroke-width="1.5"/>
<path d="M475.33,388.65 V377.62 M472.83,377.62 H477.83" stroke="#000" stroke-width="1.5" fill="none"/>
<text transform="translate(475.33,511.30) scale(0.915,1)" font-size="9.4" font-weight="bold" text-anchor="middle">0.0<tspan font-weight="normal">µ</tspan>M</text>
<rect x="494.17" y="487.88" width="18.85" height="11.02" fill="#a9d18e" stroke="#000" stroke-width="1.5"/>
<path d="M503.60,487.88 V486.77 M501.10,486.77 H506.10" stroke="#000" stroke-width="1.5" fill="none"/>
<text x="496.40" y="484.17" font-size="14" font-weight="bold" text-anchor="middle" style="stroke-width:0.2px">*</text>
<text x="503.60" y="484.17" font-size="14" font-weight="bold" text-anchor="middle" style="stroke-width:0.2px">*</text>
<text x="510.80" y="484.17" font-size="14" font-weight="bold" text-anchor="middle" style="stroke-width:0.2px">*</text>
<text transform="translate(503.60,511.30) scale(0.915,1)" font-size="9.4" font-weight="bold" text-anchor="middle">0.1<tspan font-weight="normal">µ</tspan>M</text>
<rect x="522.44" y="443.78" width="18.85" height="55.12" fill="#548235" stroke="#000" stroke-width="1.5"/>
<path d="M531.87,443.78 V441.57 M529.37,441.57 H534.37" stroke="#000" stroke-width="1.5" fill="none"/>
<text x="528.27" y="438.97" font-size="14" font-weight="bold" text-anchor="middle" style="stroke-width:0.2px">*</text>
<text x="535.47" y="438.97" font-size="14" font-weight="bold" text-anchor="middle" style="stroke-width:0.2px">*</text>
<text transform="translate(531.87,511.30) scale(0.915,1)" font-size="9.4" font-weight="bold" text-anchor="middle">1.0<tspan font-weight="normal">µ</tspan>M</text>
<text transform="translate(432.5,433.1) rotate(-90)" x="0" y="0" font-size="8.9" font-weight="bold" text-anchor="middle">miR160 abundance</text>
</g>
<g>
<text x="3.2" y="532.9" font-size="10.3" font-weight="bold" style="stroke-width:0.35px">J.</text>
<line x1="37.7" y1="671.40" x2="39.9" y2="671.40" stroke="#000" stroke-width="1.1"/>
<text transform="translate(29.9,674.15) scale(0.935,1)" font-size="9.3" font-weight="bold" text-anchor="end">0.0</text>
<line x1="37.7" y1="649.35" x2="124.0" y2="649.35" stroke="#e0e0e0" stroke-width="1"/>
<line x1="37.7" y1="649.35" x2="39.9" y2="649.35" stroke="#000" stroke-width="1.1"/>
<text transform="translate(29.9,652.10) scale(0.935,1)" font-size="9.3" font-weight="bold" text-anchor="end">1.5</text>
<line x1="37.7" y1="627.30" x2="124.0" y2="627.30" stroke="#e0e0e0" stroke-width="1"/>
<line x1="37.7" y1="627.30" x2="39.9" y2="627.30" stroke="#000" stroke-width="1.1"/>
<text transform="translate(29.9,630.05) scale(0.935,1)" font-size="9.3" font-weight="bold" text-anchor="end">3.0</text>
<line x1="37.7" y1="605.25" x2="124.0" y2="605.25" stroke="#e0e0e0" stroke-width="1"/>
<line x1="37.7" y1="605.25" x2="39.9" y2="605.25" stroke="#000" stroke-width="1.1"/>
<text transform="translate(29.9,608.00) scale(0.935,1)" font-size="9.3" font-weight="bold" text-anchor="end">4.5</text>
<line x1="37.7" y1="583.20" x2="124.0" y2="583.20" stroke="#e0e0e0" stroke-width="1"/>
<line x1="37.7" y1="583.20" x2="39.9" y2="583.20" stroke="#000" stroke-width="1.1"/>
<text transform="translate(29.9,585.95) scale(0.935,1)" font-size="9.3" font-weight="bold" text-anchor="end">6.0</text>
<line x1="37.7" y1="561.15" x2="124.0" y2="561.15" stroke="#e0e0e0" stroke-width="1"/>
<line x1="37.7" y1="561.15" x2="39.9" y2="561.15" stroke="#000" stroke-width="1.1"/>
<text transform="translate(29.9,563.90) scale(0.935,1)" font-size="9.3" font-weight="bold" text-anchor="end">7.5</text>
<line x1="37.7" y1="539.10" x2="124.0" y2="539.10" stroke="#e0e0e0" stroke-width="1"/>
<line x1="37.7" y1="539.10" x2="39.9" y2="539.10" stroke="#000" stroke-width="1.1"/>
<text transform="translate(29.9,541.85) scale(0.935,1)" font-size="9.3" font-weight="bold" text-anchor="end">9.0</text>
<line x1="37.7" y1="538.50" x2="37.7" y2="672.20" stroke="#000" stroke-width="1.7"/>
<line x1="36.9" y1="671.40" x2="124.0" y2="671.40" stroke="#000" stroke-width="1.7"/>
<rect x="42.48" y="656.70" width="19.21" height="14.70" fill="#e2f0d9" stroke="#000" stroke-width="1.5"/>
<path d="M52.08,656.70 V655.97 M49.58,655.97 H54.58" stroke="#000" stroke-width="1.5" fill="none"/>
<text transform="translate(52.08,683.70) scale(0.915,1)" font-size="9.4" font-weight="bold" text-anchor="middle">0.0<tspan font-weight="normal">µ</tspan>M</text>
<rect x="71.24" y="659.64" width="19.21" height="11.76" fill="#a9d18e" stroke="#000" stroke-width="1.5"/>
<path d="M80.85,659.64 V657.44 M78.35,657.44 H83.35" stroke="#000" stroke-width="1.5" fill="none"/>
<text transform="translate(80.85,683.70) scale(0.915,1)" font-size="9.4" font-weight="bold" text-anchor="middle">0.1<tspan font-weight="normal">µ</tspan>M</text>
<rect x="100.01" y="572.18" width="19.21" height="99.23" fill="#548235" stroke="#000" stroke-width="1.5"/>
<path d="M109.62,572.18 V568.50 M107.12,568.50 H112.12" stroke="#000" stroke-width="1.5" fill="none"/>
<text x="102.42" y="565.90" font-size="14" font-weight="bold" text-anchor="middle" style="stroke-width:0.2px">*</text>
<text x="109.62" y="565.90" font-size="14" font-weight="bold" text-anchor="middle" style="stroke-width:0.2px">*</text>
<text x="116.82" y="565.90" font-size="14" font-weight="bold" text-anchor="middle" style="stroke-width:0.2px">*</text>
<text transform="translate(109.62,683.70) scale(0.915,1)" font-size="9.4" font-weight="bold" text-anchor="middle">1.0<tspan font-weight="normal">µ</tspan>M</text>
<text transform="translate(9.4,605.5) rotate(-90)" x="0" y="0" font-size="8.9" font-weight="bold" text-anchor="middle"><tspan font-style="italic">eTM160-1</tspan> expression</text>
</g>
<g>
<text x="144.4" y="532.9" font-size="10.3" font-weight="bold" style="stroke-width:0.35px">K.</text>
<line x1="179.1" y1="671.40" x2="181.3" y2="671.40" stroke="#000" stroke-width="1.1"/>
<text transform="translate(171.3,674.15) scale(0.935,1)" font-size="9.3" font-weight="bold" text-anchor="end">0.0</text>
<line x1="179.1" y1="649.35" x2="264.1" y2="649.35" stroke="#e0e0e0" stroke-width="1"/>
<line x1="179.1" y1="649.35" x2="181.3" y2="649.35" stroke="#000" stroke-width="1.1"/>
<text transform="translate(171.3,652.10) scale(0.935,1)" font-size="9.3" font-weight="bold" text-anchor="end">0.2</text>
<line x1="179.1" y1="627.30" x2="264.1" y2="627.30" stroke="#e0e0e0" stroke-width="1"/>
<line x1="179.1" y1="627.30" x2="181.3" y2="627.30" stroke="#000" stroke-width="1.1"/>
<text transform="translate(171.3,630.05) scale(0.935,1)" font-size="9.3" font-weight="bold" text-anchor="end">0.4</text>
<line x1="179.1" y1="605.25" x2="264.1" y2="605.25" stroke="#e0e0e0" stroke-width="1"/>
<line x1="179.1" y1="605.25" x2="181.3" y2="605.25" stroke="#000" stroke-width="1.1"/>
<text transform="translate(171.3,608.00) scale(0.935,1)" font-size="9.3" font-weight="bold" text-anchor="end">0.6</text>
<line x1="179.1" y1="583.20" x2="264.1" y2="583.20" stroke="#e0e0e0" stroke-width="1"/>
<line x1="179.1" y1="583.20" x2="181.3" y2="583.20" stroke="#000" stroke-width="1.1"/>
<text transform="translate(171.3,585.95) scale(0.935,1)" font-size="9.3" font-weight="bold" text-anchor="end">0.8</text>
<line x1="179.1" y1="561.15" x2="264.1" y2="561.15" stroke="#e0e0e0" stroke-width="1"/>
<line x1="179.1" y1="561.15" x2="181.3" y2="561.15" stroke="#000" stroke-width="1.1"/>
<text transform="translate(171.3,563.90) scale(0.935,1)" font-size="9.3" font-weight="bold" text-anchor="end">1.0</text>
<line x1="179.1" y1="539.10" x2="264.1" y2="539.10" stroke="#e0e0e0" stroke-width="1"/>
<line x1="179.1" y1="539.10" x2="181.3" y2="539.10" stroke="#000" stroke-width="1.1"/>
<text transform="translate(171.3,541.85) scale(0.935,1)" font-size="9.3" font-weight="bold" text-anchor="end">1.2</text>
<line x1="179.1" y1="538.50" x2="179.1" y2="672.20" stroke="#000" stroke-width="1.7"/>
<line x1="178.3" y1="671.40" x2="264.1" y2="671.40" stroke="#000" stroke-width="1.7"/>
<rect x="183.82" y="561.15" width="18.90" height="110.25" fill="#e2f0d9" stroke="#000" stroke-width="1.5"/>
<path d="M193.27,561.15 V555.64 M190.77,555.64 H195.77" stroke="#000" stroke-width="1.5" fill="none"/>
<text transform="translate(193.27,683.70) scale(0.915,1)" font-size="9.4" font-weight="bold" text-anchor="middle">0.0<tspan font-weight="normal">µ</tspan>M</text>
<rect x="212.15" y="572.18" width="18.90" height="99.23" fill="#a9d18e" stroke="#000" stroke-width="1.5"/>
<path d="M221.60,572.18 V561.15 M219.10,561.15 H224.10" stroke="#000" stroke-width="1.5" fill="none"/>
<text transform="translate(221.60,683.70) scale(0.915,1)" font-size="9.4" font-weight="bold" text-anchor="middle">0.1<tspan font-weight="normal">µ</tspan>M</text>
<rect x="240.48" y="561.15" width="18.90" height="110.25" fill="#548235" stroke="#000" stroke-width="1.5"/>
<path d="M249.93,561.15 V555.64 M247.43,555.64 H252.43" stroke="#000" stroke-width="1.5" fill="none"/>
<text transform="translate(249.93,683.70) scale(0.915,1)" font-size="9.4" font-weight="bold" text-anchor="middle">1.0<tspan font-weight="normal">µ</tspan>M</text>
<text transform="translate(150.6,605.5) rotate(-90)" x="0" y="0" font-size="8.9" font-weight="bold" text-anchor="middle"><tspan font-style="italic">eTM160-2</tspan> expression</text>
</g>
<g>
<text x="285.2" y="532.9" font-size="10.3" font-weight="bold" style="stroke-width:0.35px">L.</text>
<line x1="319.9" y1="671.40" x2="322.1" y2="671.40" stroke="#000" stroke-width="1.1"/>
<text transform="translate(312.1,674.15) scale(0.935,1)" font-size="9.3" font-weight="bold" text-anchor="end">0.0</text>
<line x1="319.9" y1="644.94" x2="405.5" y2="644.94" stroke="#e0e0e0" stroke-width="1"/>
<line x1="319.9" y1="644.94" x2="322.1" y2="644.94" stroke="#000" stroke-width="1.1"/>
<text transform="translate(312.1,647.69) scale(0.935,1)" font-size="9.3" font-weight="bold" text-anchor="end">0.3</text>
<line x1="319.9" y1="618.48" x2="405.5" y2="618.48" stroke="#e0e0e0" stroke-width="1"/>
<line x1="319.9" y1="618.48" x2="322.1" y2="618.48" stroke="#000" stroke-width="1.1"/>
<text transform="translate(312.1,621.23) scale(0.935,1)" font-size="9.3" font-weight="bold" text-anchor="end">0.6</text>
<line x1="319.9" y1="592.02" x2="405.5" y2="592.02" stroke="#e0e0e0" stroke-width="1"/>
<line x1="319.9" y1="592.02" x2="322.1" y2="592.02" stroke="#000" stroke-width="1.1"/>
<text transform="translate(312.1,594.77) scale(0.935,1)" font-size="9.3" font-weight="bold" text-anchor="end">0.9</text>
<line x1="319.9" y1="565.56" x2="405.5" y2="565.56" stroke="#e0e0e0" stroke-width="1"/>
<line x1="319.9" y1="565.56" x2="322.1" y2="565.56" stroke="#000" stroke-width="1.1"/>
<text transform="translate(312.1,568.31) scale(0.935,1)" font-size="9.3" font-weight="bold" text-anchor="end">1.2</text>
<line x1="319.9" y1="539.10" x2="405.5" y2="539.10" stroke="#e0e0e0" stroke-width="1"/>
<line x1="319.9" y1="539.10" x2="322.1" y2="539.10" stroke="#000" stroke-width="1.1"/>
<text transform="translate(312.1,541.85) scale(0.935,1)" font-size="9.3" font-weight="bold" text-anchor="end">1.5</text>
<line x1="319.9" y1="538.50" x2="319.9" y2="672.20" stroke="#000" stroke-width="1.7"/>
<line x1="319.1" y1="671.40" x2="405.5" y2="671.40" stroke="#000" stroke-width="1.7"/>
<rect x="324.64" y="583.20" width="19.04" height="88.20" fill="#e2f0d9" stroke="#000" stroke-width="1.5"/>
<path d="M334.17,583.20 V574.38 M331.67,574.38 H336.67" stroke="#000" stroke-width="1.5" fill="none"/>
<text transform="translate(334.17,683.70) scale(0.915,1)" font-size="9.4" font-weight="bold" text-anchor="middle">0.0<tspan font-weight="normal">µ</tspan>M</text>
<rect x="353.18" y="574.38" width="19.04" height="97.02" fill="#a9d18e" stroke="#000" stroke-width="1.5"/>
<path d="M362.70,574.38 V561.15 M360.20,561.15 H365.20" stroke="#000" stroke-width="1.5" fill="none"/>
<text transform="translate(362.70,683.70) scale(0.915,1)" font-size="9.4" font-weight="bold" text-anchor="middle">0.1<tspan font-weight="normal">µ</tspan>M</text>
<rect x="381.71" y="578.79" width="19.04" height="92.61" fill="#548235" stroke="#000" stroke-width="1.5"/>
<path d="M391.23,578.79 V574.38 M388.73,574.38 H393.73" stroke="#000" stroke-width="1.5" fill="none"/>
<text transform="translate(391.23,683.70) scale(0.915,1)" font-size="9.4" font-weight="bold" text-anchor="middle">1.0<tspan font-weight="normal">µ</tspan>M</text>
<text transform="translate(291.4,605.5) rotate(-90)" x="0" y="0" font-size="8.9" font-weight="bold" text-anchor="middle"><tspan font-style="italic">ARF10</tspan> expression</text>
</g>
<g>
<text x="426.3" y="532.9" font-size="10.3" font-weight="bold" style="stroke-width:0.35px">M.</text>
<line x1="460.9" y1="671.40" x2="463.1" y2="671.40" stroke="#000" stroke-width="1.1"/>
<text transform="translate(453.1,674.15) scale(0.935,1)" font-size="9.3" font-weight="bold" text-anchor="end">0.0</text>
<line x1="460.9" y1="649.35" x2="546.0" y2="649.35" stroke="#e0e0e0" stroke-width="1"/>
<line x1="460.9" y1="649.35" x2="463.1" y2="649.35" stroke="#000" stroke-width="1.1"/>
<text transform="translate(453.1,652.10) scale(0.935,1)" font-size="9.3" font-weight="bold" text-anchor="end">1.0</text>
<line x1="460.9" y1="627.30" x2="546.0" y2="627.30" stroke="#e0e0e0" stroke-width="1"/>
<line x1="460.9" y1="627.30" x2="463.1" y2="627.30" stroke="#000" stroke-width="1.1"/>
<text transform="translate(453.1,630.05) scale(0.935,1)" font-size="9.3" font-weight="bold" text-anchor="end">2.0</text>
<line x1="460.9" y1="605.25" x2="546.0" y2="605.25" stroke="#e0e0e0" stroke-width="1"/>
<line x1="460.9" y1="605.25" x2="463.1" y2="605.25" stroke="#000" stroke-width="1.1"/>
<text transform="translate(453.1,608.00) scale(0.935,1)" font-size="9.3" font-weight="bold" text-anchor="end">3.0</text>
<line x1="460.9" y1="583.20" x2="546.0" y2="583.20" stroke="#e0e0e0" stroke-width="1"/>
<line x1="460.9" y1="583.20" x2="463.1" y2="583.20" stroke="#000" stroke-width="1.1"/>
<text transform="translate(453.1,585.95) scale(0.935,1)" font-size="9.3" font-weight="bold" text-anchor="end">4.0</text>
<line x1="460.9" y1="561.15" x2="546.0" y2="561.15" stroke="#e0e0e0" stroke-width="1"/>
<line x1="460.9" y1="561.15" x2="463.1" y2="561.15" stroke="#000" stroke-width="1.1"/>
<text transform="translate(453.1,563.90) scale(0.935,1)" font-size="9.3" font-weight="bold" text-anchor="end">5.0</text>
<line x1="460.9" y1="539.10" x2="546.0" y2="539.10" stroke="#e0e0e0" stroke-width="1"/>
<line x1="460.9" y1="539.10" x2="463.1" y2="539.10" stroke="#000" stroke-width="1.1"/>
<text transform="translate(453.1,541.85) scale(0.935,1)" font-size="9.3" font-weight="bold" text-anchor="end">6.0</text>
<line x1="460.9" y1="538.50" x2="460.9" y2="672.20" stroke="#000" stroke-width="1.7"/>
<line x1="460.1" y1="671.40" x2="546.0" y2="671.40" stroke="#000" stroke-width="1.7"/>
<rect x="465.62" y="649.35" width="18.92" height="22.05" fill="#e2f0d9" stroke="#000" stroke-width="1.5"/>
<path d="M475.08,649.35 V647.15 M472.58,647.15 H477.58" stroke="#000" stroke-width="1.5" fill="none"/>
<text transform="translate(475.08,683.70) scale(0.915,1)" font-size="9.4" font-weight="bold" text-anchor="middle">0.0<tspan font-weight="normal">µ</tspan>M</text>
<rect x="493.99" y="561.15" width="18.92" height="110.25" fill="#a9d18e" stroke="#000" stroke-width="1.5"/>
<path d="M503.45,561.15 V552.33 M500.95,552.33 H505.95" stroke="#000" stroke-width="1.5" fill="none"/>
<text x="496.25" y="549.73" font-size="14" font-weight="bold" text-anchor="middle" style="stroke-width:0.2px">*</text>
<text x="503.45" y="549.73" font-size="14" font-weight="bold" text-anchor="middle" style="stroke-width:0.2px">*</text>
<text x="510.65" y="549.73" font-size="14" font-weight="bold" text-anchor="middle" style="stroke-width:0.2px">*</text>
<text transform="translate(503.45,683.70) scale(0.915,1)" font-size="9.4" font-weight="bold" text-anchor="middle">0.1<tspan font-weight="normal">µ</tspan>M</text>
<rect x="522.35" y="640.53" width="18.92" height="30.87" fill="#548235" stroke="#000" stroke-width="1.5"/>
<path d="M531.82,640.53 V638.33 M529.32,638.33 H534.32" stroke="#000" stroke-width="1.5" fill="none"/>
<text transform="translate(531.82,683.70) scale(0.915,1)" font-size="9.4" font-weight="bold" text-anchor="middle">1.0<tspan font-weight="normal">µ</tspan>M</text>
<text transform="translate(432.5,605.5) rotate(-90)" x="0" y="0" font-size="8.9" font-weight="bold" text-anchor="middle"><tspan font-style="italic">ARF16</tspan> expression</text>
</g>
<g>
<text x="3.2" y="705.3" font-size="10.3" font-weight="bold" style="stroke-width:0.35px">N.</text>
<line x1="37.5" y1="843.80" x2="39.7" y2="843.80" stroke="#000" stroke-width="1.1"/>
<text transform="translate(29.7,846.55) scale(0.935,1)" font-size="9.3" font-weight="bold" text-anchor="end">0.0</text>
<line x1="37.5" y1="817.34" x2="124.0" y2="817.34" stroke="#e0e0e0" stroke-width="1"/>
<line x1="37.5" y1="817.34" x2="39.7" y2="817.34" stroke="#000" stroke-width="1.1"/>
<text transform="translate(29.7,820.09) scale(0.935,1)" font-size="9.3" font-weight="bold" text-anchor="end">0.3</text>
<line x1="37.5" y1="790.88" x2="124.0" y2="790.88" stroke="#e0e0e0" stroke-width="1"/>
<line x1="37.5" y1="790.88" x2="39.7" y2="790.88" stroke="#000" stroke-width="1.1"/>
<text transform="translate(29.7,793.63) scale(0.935,1)" font-size="9.3" font-weight="bold" text-anchor="end">0.6</text>
<line x1="37.5" y1="764.42" x2="124.0" y2="764.42" stroke="#e0e0e0" stroke-width="1"/>
<line x1="37.5" y1="764.42" x2="39.7" y2="764.42" stroke="#000" stroke-width="1.1"/>
<text transform="translate(29.7,767.17) scale(0.935,1)" font-size="9.3" font-weight="bold" text-anchor="end">0.9</text>
<line x1="37.5" y1="737.96" x2="124.0" y2="737.96" stroke="#e0e0e0" stroke-width="1"/>
<line x1="37.5" y1="737.96" x2="39.7" y2="737.96" stroke="#000" stroke-width="1.1"/>
<text transform="translate(29.7,740.71) scale(0.935,1)" font-size="9.3" font-weight="bold" text-anchor="end">1.2</text>
<line x1="37.5" y1="711.50" x2="124.0" y2="711.50" stroke="#e0e0e0" stroke-width="1"/>
<line x1="37.5" y1="711.50" x2="39.7" y2="711.50" stroke="#000" stroke-width="1.1"/>
<text transform="translate(29.7,714.25) scale(0.935,1)" font-size="9.3" font-weight="bold" text-anchor="end">1.5</text>
<line x1="37.5" y1="710.90" x2="37.5" y2="844.60" stroke="#000" stroke-width="1.7"/>
<line x1="36.7" y1="843.80" x2="124.0" y2="843.80" stroke="#000" stroke-width="1.7"/>
<rect x="42.29" y="755.60" width="19.26" height="88.20" fill="#e2f0d9" stroke="#000" stroke-width="1.5"/>
<path d="M51.92,755.60 V751.19 M49.42,751.19 H54.42" stroke="#000" stroke-width="1.5" fill="none"/>
<text transform="translate(51.92,857.70) scale(0.915,1)" font-size="9.4" font-weight="bold" text-anchor="middle">0.0<tspan font-weight="normal">µ</tspan>M</text>
<rect x="71.12" y="746.78" width="19.26" height="97.02" fill="#a9d18e" stroke="#000" stroke-width="1.5"/>
<path d="M80.75,746.78 V737.96 M78.25,737.96 H83.25" stroke="#000" stroke-width="1.5" fill="none"/>
<text transform="translate(80.75,857.70) scale(0.915,1)" font-size="9.4" font-weight="bold" text-anchor="middle">0.1<tspan font-weight="normal">µ</tspan>M</text>
<rect x="99.95" y="773.24" width="19.26" height="70.56" fill="#548235" stroke="#000" stroke-width="1.5"/>
<path d="M109.58,773.24 V768.83 M107.08,768.83 H112.08" stroke="#000" stroke-width="1.5" fill="none"/>
<text transform="translate(109.58,857.70) scale(0.915,1)" font-size="9.4" font-weight="bold" text-anchor="middle">1.0<tspan font-weight="normal">µ</tspan>M</text>
<text transform="translate(9.4,777.9) rotate(-90)" x="0" y="0" font-size="8.9" font-weight="bold" text-anchor="middle"><tspan font-style="italic">ARF17</tspan> expression</text>
</g>
<g>
<text x="144.4" y="705.3" font-size="10.3" font-weight="bold" style="stroke-width:0.35px">O.</text>
<line x1="179.1" y1="843.80" x2="181.3" y2="843.80" stroke="#000" stroke-width="1.1"/>
<text transform="translate(171.3,846.55) scale(0.935,1)" font-size="9.3" font-weight="bold" text-anchor="end">0.0</text>
<line x1="179.1" y1="817.34" x2="264.1" y2="817.34" stroke="#e0e0e0" stroke-width="1"/>
<line x1="179.1" y1="817.34" x2="181.3" y2="817.34" stroke="#000" stroke-width="1.1"/>
<text transform="translate(171.3,820.09) scale(0.935,1)" font-size="9.3" font-weight="bold" text-anchor="end">0.3</text>
<line x1="179.1" y1="790.88" x2="264.1" y2="790.88" stroke="#e0e0e0" stroke-width="1"/>
<line x1="179.1" y1="790.88" x2="181.3" y2="790.88" stroke="#000" stroke-width="1.1"/>
<text transform="translate(171.3,793.63) scale(0.935,1)" font-size="9.3" font-weight="bold" text-anchor="end">0.6</text>
<line x1="179.1" y1="764.42" x2="264.1" y2="764.42" stroke="#e0e0e0" stroke-width="1"/>
<line x1="179.1" y1="764.42" x2="181.3" y2="764.42" stroke="#000" stroke-width="1.1"/>
<text transform="translate(171.3,767.17) scale(0.935,1)" font-size="9.3" font-weight="bold" text-anchor="end">0.9</text>
<line x1="179.1" y1="737.96" x2="264.1" y2="737.96" stroke="#e0e0e0" stroke-width="1"/>
<line x1="179.1" y1="737.96" x2="181.3" y2="737.96" stroke="#000" stroke-width="1.1"/>
<text transform="translate(171.3,740.71) scale(0.935,1)" font-size="9.3" font-weight="bold" text-anchor="end">1.2</text>
<line x1="179.1" y1="711.50" x2="264.1" y2="711.50" stroke="#e0e0e0" stroke-width="1"/>
<line x1="179.1" y1="711.50" x2="181.3" y2="711.50" stroke="#000" stroke-width="1.1"/>
<text transform="translate(171.3,714.25) scale(0.935,1)" font-size="9.3" font-weight="bold" text-anchor="end">1.5</text>
<line x1="179.1" y1="710.90" x2="179.1" y2="844.60" stroke="#000" stroke-width="1.7"/>
<line x1="178.3" y1="843.80" x2="264.1" y2="843.80" stroke="#000" stroke-width="1.7"/>
<rect x="183.82" y="755.60" width="18.90" height="88.20" fill="#e2f0d9" stroke="#000" stroke-width="1.5"/>
<path d="M193.27,755.60 V742.37 M190.77,742.37 H195.77" stroke="#000" stroke-width="1.5" fill="none"/>
<text transform="translate(193.27,857.70) scale(0.915,1)" font-size="9.4" font-weight="bold" text-anchor="middle">0.0<tspan font-weight="normal">µ</tspan>M</text>
<rect x="212.15" y="768.83" width="18.90" height="74.97" fill="#a9d18e" stroke="#000" stroke-width="1.5"/>
<path d="M221.60,768.83 V764.42 M219.10,764.42 H224.10" stroke="#000" stroke-width="1.5" fill="none"/>
<text transform="translate(221.60,857.70) scale(0.915,1)" font-size="9.4" font-weight="bold" text-anchor="middle">0.1<tspan font-weight="normal">µ</tspan>M</text>
<rect x="240.48" y="729.14" width="18.90" height="114.66" fill="#548235" stroke="#000" stroke-width="1.5"/>
<path d="M249.93,729.14 V720.32 M247.43,720.32 H252.43" stroke="#000" stroke-width="1.5" fill="none"/>
<text transform="translate(249.93,857.70) scale(0.915,1)" font-size="9.4" font-weight="bold" text-anchor="middle">1.0<tspan font-weight="normal">µ</tspan>M</text>
<text transform="translate(150.6,777.9) rotate(-90)" x="0" y="0" font-size="8.9" font-weight="bold" text-anchor="middle"><tspan font-style="italic">DRB1</tspan> expression</text>
</g>
<g>
<text x="285.2" y="705.3" font-size="10.3" font-weight="bold" style="stroke-width:0.35px">P.</text>
<line x1="320.4" y1="843.80" x2="322.6" y2="843.80" stroke="#000" stroke-width="1.1"/>
<text transform="translate(312.6,846.55) scale(0.935,1)" font-size="9.3" font-weight="bold" text-anchor="end">0.0</text>
<line x1="320.4" y1="821.75" x2="405.5" y2="821.75" stroke="#e0e0e0" stroke-width="1"/>
<line x1="320.4" y1="821.75" x2="322.6" y2="821.75" stroke="#000" stroke-width="1.1"/>
<text transform="translate(312.6,824.50) scale(0.935,1)" font-size="9.3" font-weight="bold" text-anchor="end">0.2</text>
<line x1="320.4" y1="799.70" x2="405.5" y2="799.70" stroke="#e0e0e0" stroke-width="1"/>
<line x1="320.4" y1="799.70" x2="322.6" y2="799.70" stroke="#000" stroke-width="1.1"/>
<text transform="translate(312.6,802.45) scale(0.935,1)" font-size="9.3" font-weight="bold" text-anchor="end">0.4</text>
<line x1="320.4" y1="777.65" x2="405.5" y2="777.65" stroke="#e0e0e0" stroke-width="1"/>
<line x1="320.4" y1="777.65" x2="322.6" y2="777.65" stroke="#000" stroke-width="1.1"/>
<text transform="translate(312.6,780.40) scale(0.935,1)" font-size="9.3" font-weight="bold" text-anchor="end">0.6</text>
<line x1="320.4" y1="755.60" x2="405.5" y2="755.60" stroke="#e0e0e0" stroke-width="1"/>
<line x1="320.4" y1="755.60" x2="322.6" y2="755.60" stroke="#000" stroke-width="1.1"/>
<text transform="translate(312.6,758.35) scale(0.935,1)" font-size="9.3" font-weight="bold" text-anchor="end">0.8</text>
<line x1="320.4" y1="733.55" x2="405.5" y2="733.55" stroke="#e0e0e0" stroke-width="1"/>
<line x1="320.4" y1="733.55" x2="322.6" y2="733.55" stroke="#000" stroke-width="1.1"/>
<text transform="translate(312.6,736.30) scale(0.935,1)" font-size="9.3" font-weight="bold" text-anchor="end">1.0</text>
<line x1="320.4" y1="711.50" x2="405.5" y2="711.50" stroke="#e0e0e0" stroke-width="1"/>
<line x1="320.4" y1="711.50" x2="322.6" y2="711.50" stroke="#000" stroke-width="1.1"/>
<text transform="translate(312.6,714.25) scale(0.935,1)" font-size="9.3" font-weight="bold" text-anchor="end">1.2</text>
<line x1="320.4" y1="710.90" x2="320.4" y2="844.60" stroke="#000" stroke-width="1.7"/>
<line x1="319.6" y1="843.80" x2="405.5" y2="843.80" stroke="#000" stroke-width="1.7"/>
<rect x="325.12" y="733.55" width="18.92" height="110.25" fill="#e2f0d9" stroke="#000" stroke-width="1.5"/>
<path d="M334.58,733.55 V720.32 M332.08,720.32 H337.08" stroke="#000" stroke-width="1.5" fill="none"/>
<text transform="translate(334.58,857.70) scale(0.915,1)" font-size="9.4" font-weight="bold" text-anchor="middle">0.0<tspan font-weight="normal">µ</tspan>M</text>
<rect x="353.49" y="742.37" width="18.92" height="101.43" fill="#a9d18e" stroke="#000" stroke-width="1.5"/>
<path d="M362.95,742.37 V729.14 M360.45,729.14 H365.45" stroke="#000" stroke-width="1.5" fill="none"/>
<text transform="translate(362.95,857.70) scale(0.915,1)" font-size="9.4" font-weight="bold" text-anchor="middle">0.1<tspan font-weight="normal">µ</tspan>M</text>
<rect x="381.85" y="794.19" width="18.92" height="49.61" fill="#548235" stroke="#000" stroke-width="1.5"/>
<path d="M391.32,794.19 V790.88 M388.82,790.88 H393.82" stroke="#000" stroke-width="1.5" fill="none"/>
<text x="387.72" y="788.28" font-size="14" font-weight="bold" text-anchor="middle" style="stroke-width:0.2px">*</text>
<text x="394.92" y="788.28" font-size="14" font-weight="bold" text-anchor="middle" style="stroke-width:0.2px">*</text>
<text transform="translate(391.32,857.70) scale(0.915,1)" font-size="9.4" font-weight="bold" text-anchor="middle">1.0<tspan font-weight="normal">µ</tspan>M</text>
<text transform="translate(291.4,777.9) rotate(-90)" x="0" y="0" font-size="8.9" font-weight="bold" text-anchor="middle"><tspan font-style="italic">DRB2</tspan> expression</text>
</g>
<g>
<text x="426.3" y="705.3" font-size="10.3" font-weight="bold" style="stroke-width:0.35px">Q.</text>
<line x1="461.0" y1="843.80" x2="463.2" y2="843.80" stroke="#000" stroke-width="1.1"/>
<text transform="translate(453.2,846.55) scale(0.935,1)" font-size="9.3" font-weight="bold" text-anchor="end">0.0</text>
<line x1="461.0" y1="821.75" x2="546.0" y2="821.75" stroke="#e0e0e0" stroke-width="1"/>
<line x1="461.0" y1="821.75" x2="463.2" y2="821.75" stroke="#000" stroke-width="1.1"/>
<text transform="translate(453.2,824.50) scale(0.935,1)" font-size="9.3" font-weight="bold" text-anchor="end">0.2</text>
<line x1="461.0" y1="799.70" x2="546.0" y2="799.70" stroke="#e0e0e0" stroke-width="1"/>
<line x1="461.0" y1="799.70" x2="463.2" y2="799.70" stroke="#000" stroke-width="1.1"/>
<text transform="translate(453.2,802.45) scale(0.935,1)" font-size="9.3" font-weight="bold" text-anchor="end">0.4</text>
<line x1="461.0" y1="777.65" x2="546.0" y2="777.65" stroke="#e0e0e0" stroke-width="1"/>
<line x1="461.0" y1="777.65" x2="463.2" y2="777.65" stroke="#000" stroke-width="1.1"/>
<text transform="translate(453.2,780.40) scale(0.935,1)" font-size="9.3" font-weight="bold" text-anchor="end">0.6</text>
<line x1="461.0" y1="755.60" x2="546.0" y2="755.60" stroke="#e0e0e0" stroke-width="1"/>
<line x1="461.0" y1="755.60" x2="463.2" y2="755.60" stroke="#000" stroke-width="1.1"/>
<text transform="translate(453.2,758.35) scale(0.935,1)" font-size="9.3" font-weight="bold" text-anchor="end">0.8</text>
<line x1="461.0" y1="733.55" x2="546.0" y2="733.55" stroke="#e0e0e0" stroke-width="1"/>
<line x1="461.0" y1="733.55" x2="463.2" y2="733.55" stroke="#000" stroke-width="1.1"/>
<text transform="translate(453.2,736.30) scale(0.935,1)" font-size="9.3" font-weight="bold" text-anchor="end">1.0</text>
<line x1="461.0" y1="711.50" x2="546.0" y2="711.50" stroke="#e0e0e0" stroke-width="1"/>
<line x1="461.0" y1="711.50" x2="463.2" y2="711.50" stroke="#000" stroke-width="1.1"/>
<text transform="translate(453.2,714.25) scale(0.935,1)" font-size="9.3" font-weight="bold" text-anchor="end">1.2</text>
<line x1="461.0" y1="710.90" x2="461.0" y2="844.60" stroke="#000" stroke-width="1.7"/>
<line x1="460.2" y1="843.80" x2="546.0" y2="843.80" stroke="#000" stroke-width="1.7"/>
<rect x="465.72" y="733.55" width="18.90" height="110.25" fill="#e2f0d9" stroke="#000" stroke-width="1.5"/>
<path d="M475.17,733.55 V719.22 M472.67,719.22 H477.67" stroke="#000" stroke-width="1.5" fill="none"/>
<text transform="translate(475.17,857.70) scale(0.915,1)" font-size="9.4" font-weight="bold" text-anchor="middle">0.0<tspan font-weight="normal">µ</tspan>M</text>
<rect x="494.05" y="775.44" width="18.90" height="68.36" fill="#a9d18e" stroke="#000" stroke-width="1.5"/>
<path d="M503.50,775.44 V772.14 M501.00,772.14 H506.00" stroke="#000" stroke-width="1.5" fill="none"/>
<text x="503.50" y="769.54" font-size="14" font-weight="bold" text-anchor="middle" style="stroke-width:0.2px">*</text>
<text transform="translate(503.50,857.70) scale(0.915,1)" font-size="9.4" font-weight="bold" text-anchor="middle">0.1<tspan font-weight="normal">µ</tspan>M</text>
<rect x="522.38" y="773.24" width="18.90" height="70.56" fill="#548235" stroke="#000" stroke-width="1.5"/>
<path d="M531.83,773.24 V767.73 M529.33,767.73 H534.33" stroke="#000" stroke-width="1.5" fill="none"/>
<text x="531.83" y="765.13" font-size="14" font-weight="bold" text-anchor="middle" style="stroke-width:0.2px">*</text>
<text transform="translate(531.83,857.70) scale(0.915,1)" font-size="9.4" font-weight="bold" text-anchor="middle">1.0<tspan font-weight="normal">µ</tspan>M</text>
<text transform="translate(432.5,777.9) rotate(-90)" x="0" y="0" font-size="8.9" font-weight="bold" text-anchor="middle"><tspan font-style="italic">DRB4</tspan> expression</text>
</g>
</svg>
</body></html>
